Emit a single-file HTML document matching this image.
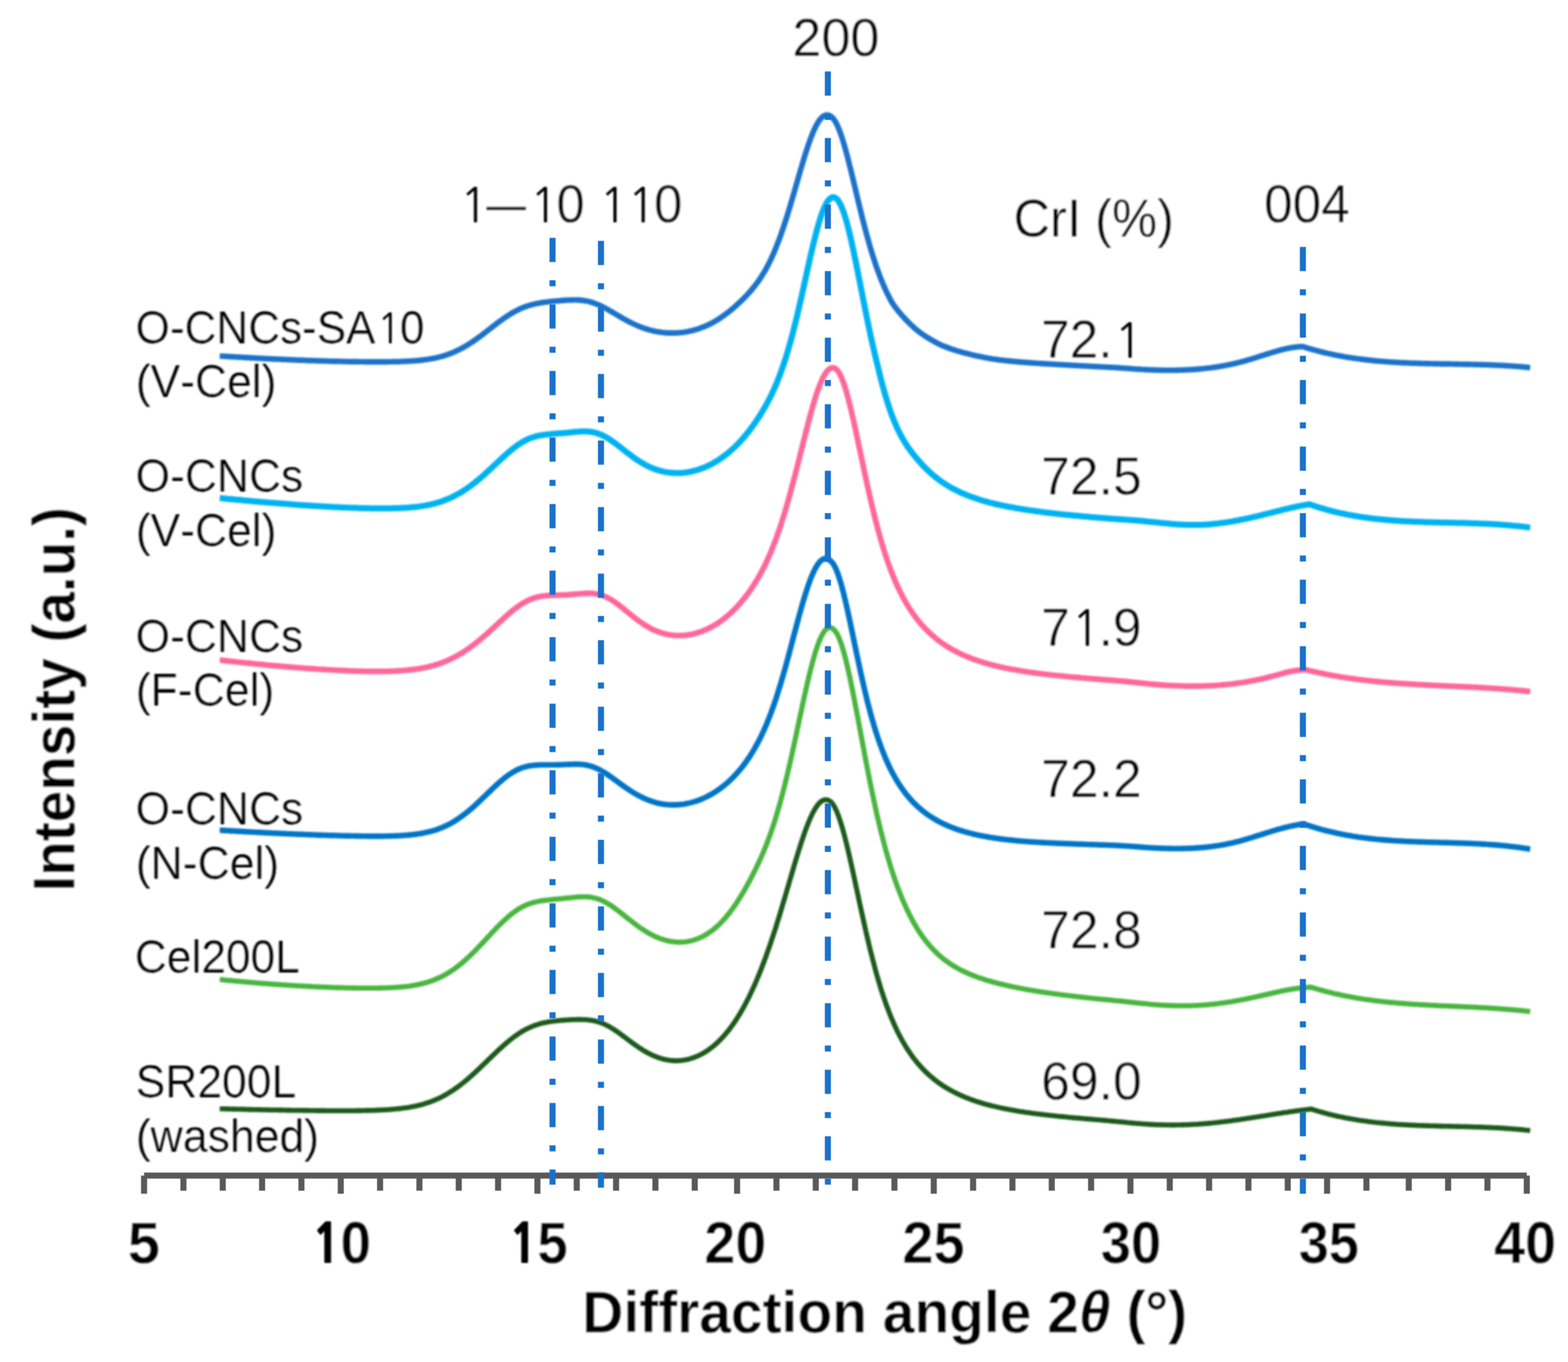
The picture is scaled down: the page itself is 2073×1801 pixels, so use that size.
<!DOCTYPE html>
<html lang="en"><head><meta charset="utf-8"><title>XRD patterns</title>
<style>
html,body{margin:0;padding:0;background:#fff;}
body{width:2073px;height:1801px;overflow:hidden;}
svg{display:block;}
text{font-family:"Liberation Sans",Arial,Helvetica,sans-serif;fill:#000;white-space:pre;font-kerning:none;}
.r{font-size:67.5px;stroke:#fff;stroke-width:0.4px;}
.l{font-size:60.0px;stroke:#fff;stroke-width:0.2px;}
.b{font-weight:bold;font-size:77.0px;stroke:#fff;stroke-width:0.4px;}
.n1{font-family:"NanumGothic","Liberation Sans",sans-serif;font-size:91.4%;stroke:none;}
.b .n1{font-weight:800;font-size:89.5%;}
</style></head><body>
<svg xmlns="http://www.w3.org/2000/svg" width="2073" height="1801" viewBox="0 0 2073 1801">
<defs><filter id="soft" x="-2%" y="-2%" width="104%" height="104%"><feGaussianBlur stdDeviation="1.0"/></filter></defs>
<rect width="2073" height="1801" fill="#fff"/>

<g filter="url(#soft)">
<text class="r" transform="translate(1047.53,74.2) scale(1.0235,1.035)">200</text>
<text class="r" transform="translate(790.22,293.6) scale(0.9964,1.035)"><tspan class="n1" dx="2.2">1</tspan><tspan class="n1">1</tspan><tspan dx="-2.2">0</tspan></text>
<text class="r" transform="translate(698.65,293.6) scale(0.9905,1.035)"><tspan class="n1" dx="2.2">1</tspan><tspan dx="-2.2">0</tspan></text>
<text class="r" transform="translate(1671.19,293.7) scale(1.0057,1.035)">004</text>
<text class="r" transform="translate(1340.03,313.4) scale(0.9917,1.035)">CrI (%)</text>
<text class="r" transform="translate(1376.58,473.4) scale(1.0061,1.035)">72.<tspan class="n1" dx="2.2">1</tspan></text>
<text class="r" transform="translate(1376.57,653.7) scale(1.0116,1.035)">72.5</text>
<text class="r" transform="translate(1376.57,853.8) scale(1.0116,1.035)">7<tspan class="n1" dx="2.2">1</tspan><tspan dx="-2.2">.9</tspan></text>
<text class="r" transform="translate(1376.57,1053.7) scale(1.0116,1.035)">72.2</text>
<text class="r" transform="translate(1376.57,1253.8) scale(1.0116,1.035)">72.8</text>
<text class="r" transform="translate(1376.57,1453.9) scale(1.0116,1.035)">69.0</text>
<text class="l" transform="translate(179.36,453.6) scale(0.9707,1.03)">O-CNCs-SA<tspan class="n1" dx="2">1</tspan><tspan dx="-2">0</tspan></text>
<text class="l" transform="translate(179.46,525.4) scale(0.9793,1.03)">(V-Cel)</text>
<text class="l" transform="translate(179.35,649.8) scale(0.9774,1.03)">O-CNCs</text>
<text class="l" transform="translate(179.46,721.7) scale(0.9793,1.03)">(V-Cel)</text>
<text class="l" transform="translate(179.35,861.7) scale(0.9774,1.03)">O-CNCs</text>
<text class="l" transform="translate(179.45,933.4) scale(0.9821,1.03)">(F-Cel)</text>
<text class="l" transform="translate(179.35,1089.9) scale(0.9774,1.03)">O-CNCs</text>
<text class="l" transform="translate(179.46,1161.7) scale(0.9812,1.03)">(N-Cel)</text>
<text class="l" transform="translate(178.37,1286.4) scale(0.9752,1.03)">Cel200L</text>
<text class="l" transform="translate(179.34,1450.6) scale(0.9791,1.03)">SR200L</text>
<text class="l" transform="translate(179.45,1522.5) scale(0.983,1.03)">(washed)</text>
<text class="b" transform="translate(168.92,1670.2) scale(0.9923,1.02)">5</text>
<text class="b" transform="translate(410.93,1670.2) scale(0.9413,1.02)"><tspan class="n1" dx="1.5">1</tspan><tspan dx="-1.5">0</tspan></text>
<text class="b" transform="translate(671.25,1670.2) scale(0.9371,1.02)"><tspan class="n1" dx="1.5">1</tspan><tspan dx="-1.5">5</tspan></text>
<text class="b" transform="translate(931.29,1670.2) scale(0.9539,1.02)">20</text>
<text class="b" transform="translate(1193.08,1670.2) scale(0.9594,1.02)">25</text>
<text class="b" transform="translate(1455.37,1670.2) scale(0.9325,1.02)">30</text>
<text class="b" transform="translate(1716.97,1670.2) scale(0.9309,1.02)">35</text>
<text class="b" transform="translate(1975.24,1670.2) scale(0.9594,1.02)">40</text>
<text class="r" transform="translate(605.8,293.6) scale(1,1.035)"><tspan class="n1" dx="2.2">1</tspan></text>
<text class="r" transform="translate(643,293.6) scale(0.775,1.035)">—</text>
<text class="b" transform="translate(769.81,1761.8) scale(0.9777,1.02)">Diffraction angle 2<tspan font-style="italic">θ</tspan> (°)</text>
<text class="b" transform="translate(98.7,1178.87) rotate(-90) scale(0.9741,1.02)">Intensity (a.u.)</text>
</g>
<g fill="#595959">
<rect x="190.5" y="1550.5" width="1828" height="8"/>
<rect x="186.5" y="1554.5" width="8.0" height="24"/>
<rect x="238.5" y="1554.5" width="8.0" height="20"/>
<rect x="290.5" y="1554.5" width="8.0" height="20"/>
<rect x="342.5" y="1554.5" width="8.0" height="20"/>
<rect x="394.5" y="1554.5" width="8.0" height="20"/>
<rect x="446.5" y="1554.5" width="8.0" height="24"/>
<rect x="498.5" y="1554.5" width="8.0" height="20"/>
<rect x="550.5" y="1554.5" width="8.0" height="20"/>
<rect x="602.5" y="1554.5" width="8.0" height="20"/>
<rect x="654.5" y="1554.5" width="8.0" height="20"/>
<rect x="706.5" y="1554.5" width="8.0" height="24"/>
<rect x="758.5" y="1554.5" width="8.0" height="20"/>
<rect x="810.5" y="1554.5" width="8.0" height="20"/>
<rect x="862.5" y="1554.5" width="8.0" height="20"/>
<rect x="914.5" y="1554.5" width="8.0" height="20"/>
<rect x="970.5" y="1554.5" width="8.0" height="24"/>
<rect x="1022.5" y="1554.5" width="8.0" height="20"/>
<rect x="1074.5" y="1554.5" width="8.0" height="20"/>
<rect x="1126.5" y="1554.5" width="8.0" height="20"/>
<rect x="1178.5" y="1554.5" width="8.0" height="20"/>
<rect x="1230.5" y="1554.5" width="8.0" height="24"/>
<rect x="1282.5" y="1554.5" width="8.0" height="20"/>
<rect x="1334.5" y="1554.5" width="8.0" height="20"/>
<rect x="1386.5" y="1554.5" width="8.0" height="20"/>
<rect x="1438.5" y="1554.5" width="8.0" height="20"/>
<rect x="1490.5" y="1554.5" width="8.0" height="24"/>
<rect x="1542.5" y="1554.5" width="8.0" height="20"/>
<rect x="1594.5" y="1554.5" width="8.0" height="20"/>
<rect x="1646.5" y="1554.5" width="8.0" height="20"/>
<rect x="1698.5" y="1554.5" width="8.0" height="20"/>
<rect x="1750.5" y="1554.5" width="8.0" height="24"/>
<rect x="1802.5" y="1554.5" width="8.0" height="20"/>
<rect x="1858.5" y="1554.5" width="8.0" height="20"/>
<rect x="1910.5" y="1554.5" width="8.0" height="20"/>
<rect x="1962.5" y="1554.5" width="8.0" height="20"/>
<rect x="2014.5" y="1554.5" width="8.0" height="24"/>
</g>
<g fill="none" stroke-linejoin="round" stroke-linecap="butt" filter="url(#soft)">
<path stroke="#1b72ca" stroke-width="7.4" d="M290.5,470.7 L292.7,470.9 L294.8,471 L297,471.1 L299.2,471.3 L301.3,471.4 L303.5,471.5 L305.7,471.7 L307.8,471.8 L310,471.9 L312.2,472.1 L314.4,472.2 L316.5,472.3 L318.7,472.4 L320.9,472.6 L323,472.7 L325.2,472.8 L327.4,472.9 L329.5,473 L331.7,473.2 L333.9,473.3 L336,473.4 L338.2,473.5 L340.4,473.6 L342.5,473.7 L344.7,473.9 L346.9,474 L349,474.1 L351.2,474.2 L353.4,474.3 L355.6,474.4 L357.7,474.5 L359.9,474.6 L362.1,474.7 L364.2,474.8 L366.4,474.9 L368.6,475 L370.7,475.1 L372.9,475.2 L375.1,475.3 L377.2,475.4 L379.4,475.5 L381.6,475.6 L383.7,475.7 L385.9,475.8 L388.1,475.9 L390.2,476 L392.4,476.1 L394.6,476.2 L396.7,476.2 L398.9,476.3 L401.1,476.4 L403.3,476.5 L405.4,476.6 L407.6,476.7 L409.8,476.7 L411.9,476.8 L414.1,476.9 L416.3,477 L418.4,477 L420.6,477.1 L422.8,477.2 L424.9,477.2 L427.1,477.3 L429.3,477.4 L431.4,477.4 L433.6,477.5 L435.8,477.6 L437.9,477.6 L440.1,477.7 L442.3,477.7 L444.5,477.8 L446.6,477.8 L448.8,477.9 L451,477.9 L453.1,478 L455.3,478 L457.5,478.1 L459.6,478.1 L461.8,478.2 L464,478.2 L466.1,478.2 L468.3,478.3 L470.5,478.3 L472.6,478.3 L474.8,478.4 L477,478.4 L479.1,478.4 L481.3,478.4 L483.5,478.5 L485.7,478.5 L487.8,478.5 L490,478.5 L492.2,478.5 L494.3,478.5 L496.5,478.5 L498.7,478.5 L500.8,478.5 L503,478.5 L505.2,478.5 L507.3,478.5 L509.5,478.5 L511.7,478.5 L513.8,478.4 L516,478.4 L518.2,478.4 L520.3,478.3 L522.5,478.3 L524.7,478.2 L526.8,478.2 L529,478.1 L531.2,478 L533.4,477.9 L535.5,477.8 L537.7,477.7 L539.9,477.6 L542,477.5 L544.2,477.4 L546.4,477.2 L548.5,477.1 L550.7,476.9 L552.9,476.7 L555,476.5 L557.2,476.2 L559.4,476 L561.5,475.7 L563.7,475.4 L565.9,475.1 L568,474.7 L570.2,474.4 L572.4,474 L574.6,473.5 L576.7,473.1 L578.9,472.6 L581.1,472 L583.2,471.5 L585.4,470.9 L587.6,470.2 L589.7,469.5 L591.9,468.8 L594.1,468 L596.2,467.2 L598.4,466.3 L600.6,465.4 L602.7,464.4 L604.9,463.4 L607.1,462.3 L609.2,461.2 L611.4,460.1 L613.6,458.8 L615.8,457.6 L617.9,456.3 L620.1,454.9 L622.3,453.5 L624.4,452.1 L626.6,450.6 L628.8,449.1 L630.9,447.6 L633.1,446 L635.3,444.4 L637.4,442.8 L639.6,441.1 L641.8,439.4 L643.9,437.8 L646.1,436.1 L648.3,434.4 L650.4,432.7 L652.6,431 L654.8,429.4 L656.9,427.7 L659.1,426.1 L661.3,424.5 L663.5,422.9 L665.6,421.3 L667.8,419.8 L670,418.4 L672.1,416.9 L674.3,415.6 L676.5,414.3 L678.6,413 L680.8,411.8 L683,410.7 L685.1,409.6 L687.3,408.5 L689.5,407.6 L691.6,406.7 L693.8,405.8 L696,405.1 L698.1,404.3 L700.3,403.7 L702.5,403.1 L704.7,402.5 L706.8,402 L709,401.5 L711.2,401.1 L713.3,400.7 L715.5,400.3 L717.7,400 L719.8,399.7 L722,399.4 L724.2,399.2 L726.3,398.9 L728.5,398.7 L730.7,398.5 L732.8,398.3 L735,398.1 L737.2,397.9 L739.3,397.7 L741.5,397.5 L743.7,397.3 L745.9,397.2 L748,397 L750.2,396.9 L752.4,396.8 L754.5,396.7 L756.7,396.7 L758.9,396.6 L761,396.6 L763.2,396.7 L765.4,396.8 L767.5,397 L769.7,397.2 L771.9,397.5 L774,397.8 L776.2,398.2 L778.4,398.7 L780.5,399.3 L782.7,399.9 L784.9,400.6 L787,401.4 L789.2,402.3 L791.4,403.2 L793.6,404.2 L795.7,405.2 L797.9,406.3 L800.1,407.4 L802.2,408.6 L804.4,409.8 L806.6,411.1 L808.7,412.3 L810.9,413.6 L813.1,414.9 L815.2,416.1 L817.4,417.4 L819.6,418.7 L821.7,420 L823.9,421.2 L826.1,422.4 L828.2,423.6 L830.4,424.7 L832.6,425.9 L834.8,427 L836.9,428 L839.1,429 L841.3,430 L843.4,430.9 L845.6,431.8 L847.8,432.7 L849.9,433.5 L852.1,434.2 L854.3,434.9 L856.4,435.6 L858.6,436.2 L860.8,436.8 L862.9,437.3 L865.1,437.8 L867.3,438.3 L869.4,438.7 L871.6,439 L873.8,439.4 L876,439.6 L878.1,439.9 L880.3,440 L882.5,440.2 L884.6,440.3 L886.8,440.3 L889,440.4 L891.1,440.3 L893.3,440.3 L895.5,440.1 L897.6,440 L899.8,439.8 L902,439.6 L904.1,439.3 L906.3,438.9 L908.5,438.6 L910.6,438.2 L912.8,437.7 L915,437.2 L917.1,436.6 L919.3,436 L921.5,435.4 L923.7,434.7 L925.8,433.9 L928,433.1 L930.2,432.3 L932.3,431.4 L934.5,430.4 L936.7,429.4 L938.8,428.4 L941,427.2 L943.2,426.1 L945.3,424.8 L947.5,423.5 L949.7,422.2 L951.8,420.8 L954,419.3 L956.2,417.8 L958.3,416.2 L960.5,414.6 L962.7,412.9 L964.9,411.2 L967,409.4 L969.2,407.6 L971.4,405.7 L973.5,403.8 L975.7,401.8 L977.9,399.8 L980,397.7 L982.2,395.6 L984.4,393.4 L986.5,391.2 L988.7,388.8 L990.9,386.5 L993,384 L995.2,381.4 L997.4,378.7 L999.5,375.9 L1001.7,373 L1003.9,369.9 L1006.1,366.7 L1008.2,363.2 L1010.4,359.6 L1012.6,355.8 L1014.7,351.8 L1016.9,347.6 L1019.1,343.1 L1021.2,338.4 L1023.4,333.5 L1025.6,328.3 L1027.7,322.8 L1029.9,317.1 L1032.1,311.2 L1034.2,305 L1036.4,298.5 L1038.6,291.9 L1040,287.4 L1040.5,285.8 L1040.7,285 L1041,284.2 L1041.5,282.6 L1042,280.9 L1042.5,279.3 L1042.9,278 L1043,277.7 L1043.5,276 L1044,274.4 L1044.5,272.7 L1045,271 L1045.1,270.7 L1045.5,269.3 L1046,267.6 L1046.5,265.9 L1047,264.2 L1047.2,263.4 L1047.5,262.5 L1048,260.8 L1048.5,259.1 L1049,257.4 L1049.4,255.9 L1049.5,255.7 L1050,253.9 L1050.5,252.2 L1051,250.5 L1051.5,248.7 L1051.6,248.4 L1052,247 L1052.5,245.2 L1053,243.5 L1053.5,241.7 L1053.8,240.9 L1054,240 L1054.5,238.3 L1055,236.5 L1055.5,234.8 L1055.9,233.3 L1056,233 L1056.5,231.3 L1057,229.6 L1057.5,227.9 L1058,226.1 L1058.1,225.8 L1058.5,224.4 L1059,222.7 L1059.5,221 L1060,219.3 L1060.3,218.4 L1060.5,217.6 L1061,215.9 L1061.5,214.3 L1062,212.6 L1062.4,211.2 L1062.5,211 L1063,209.3 L1063.5,207.7 L1064,206.1 L1064.5,204.5 L1064.6,204.2 L1065,202.9 L1065.5,201.3 L1066,199.7 L1066.5,198.2 L1066.8,197.4 L1067,196.7 L1067.5,195.2 L1068,193.7 L1068.5,192.2 L1068.9,190.9 L1069,190.7 L1069.5,189.3 L1070,187.9 L1070.5,186.4 L1071,185.1 L1071.1,184.8 L1071.5,183.7 L1072,182.4 L1072.5,181 L1073,179.8 L1073.3,179.1 L1073.5,178.5 L1074,177.2 L1074.5,176 L1075,174.8 L1075.4,173.8 L1075.5,173.7 L1076,172.5 L1076.5,171.4 L1077,170.3 L1077.5,169.2 L1077.6,169 L1078,168.2 L1078.5,167.2 L1079,166.2 L1079.5,165.3 L1079.8,164.8 L1080,164.4 L1080.5,163.5 L1081,162.6 L1081.5,161.8 L1081.9,161.1 L1082,161 L1082.5,160.2 L1083,159.5 L1083.5,158.8 L1084,158.2 L1084.1,158 L1084.5,157.5 L1085,156.9 L1085.5,156.4 L1086,155.8 L1086.3,155.6 L1086.5,155.3 L1087,154.9 L1087.5,154.5 L1088,154.1 L1088.4,153.8 L1088.5,153.7 L1089,153.4 L1089.5,153.1 L1090,152.9 L1090.5,152.6 L1090.6,152.6 L1091,152.5 L1091.5,152.3 L1092,152.2 L1092.5,152.1 L1092.8,152.1 L1093,152.1 L1093.5,152.1 L1094,152.1 L1094.5,152.2 L1095,152.3 L1095,152.3 L1095.5,152.4 L1096,152.6 L1096.5,152.8 L1097,153.1 L1097.1,153.1 L1097.5,153.3 L1098,153.7 L1098.5,154 L1099,154.4 L1099.3,154.6 L1099.5,154.8 L1100,155.2 L1100.5,155.7 L1101,156.2 L1101.5,156.7 L1101.5,156.8 L1102,157.4 L1102.5,158 L1103,158.7 L1103.5,159.4 L1103.6,159.6 L1104,160.2 L1104.5,161 L1105,161.9 L1105.5,162.8 L1105.8,163.4 L1106,163.8 L1106.5,164.8 L1107,165.9 L1107.5,166.9 L1108,168 L1108,168.1 L1108.5,169.3 L1109,170.5 L1109.5,171.7 L1110,173 L1110.1,173.4 L1110.5,174.4 L1111,175.7 L1111.5,177.2 L1112,178.6 L1112.3,179.5 L1112.5,180.1 L1113,181.6 L1113.5,183.1 L1114,184.7 L1114.5,186.2 L1114.5,186.3 L1115,188 L1115.5,189.6 L1116,191.3 L1116.5,193.1 L1116.6,193.5 L1117,194.8 L1117.5,196.6 L1118,198.4 L1118.5,200.2 L1118.8,201.4 L1119,202.1 L1119.5,204 L1120,205.8 L1120.5,207.8 L1121,209.6 L1121,209.7 L1121.5,211.6 L1122,213.6 L1122.5,215.6 L1123,217.6 L1123.1,218.1 L1123.5,219.6 L1124,221.6 L1124.5,223.6 L1125,225.7 L1125.3,226.9 L1125.5,227.7 L1126,229.8 L1126.5,231.8 L1127,233.9 L1127.5,235.9 L1127.5,236 L1128,238.1 L1128.5,240.2 L1129,242.3 L1129.5,244.4 L1129.6,245 L1130,246.5 L1130.5,248.6 L1131,250.7 L1131.5,252.8 L1131.8,254.1 L1132,254.9 L1132.5,257 L1133,259.1 L1133.5,261.2 L1134,263.2 L1134,263.2 L1134.5,265.3 L1135,267.4 L1135.5,269.5 L1136,271.6 L1136.2,272.2 L1136.5,273.6 L1137,275.7 L1137.5,277.7 L1138,279.8 L1138.3,281 L1138.5,281.8 L1139,283.8 L1139.5,285.8 L1140,287.8 L1140.5,289.8 L1140.5,289.8 L1141,291.8 L1141.5,293.7 L1142,295.7 L1142.5,297.6 L1142.7,298.2 L1143,299.6 L1143.5,301.5 L1144,303.4 L1144.5,305.3 L1144.8,306.5 L1145,307.2 L1145.5,309 L1146,310.9 L1146.5,312.7 L1147,314.5 L1147,314.5 L1147.5,316.3 L1148,318.1 L1148.5,319.9 L1149,321.7 L1149.2,322.2 L1149.5,323.4 L1150,325.2 L1151.3,329.7 L1153.5,336.8 L1155.7,343.7 L1157.8,350.2 L1160,356.4 L1162.2,362.4 L1164.3,368 L1166.5,373.4 L1168.7,378.5 L1170.8,383.4 L1173,388 L1175.2,392.3 L1177.3,396.4 L1179.5,400.4 L1181.7,403.6 L1183.9,406.6 L1186,409.4 L1188.2,412.1 L1190.4,414.7 L1192.5,417.2 L1194.7,419.5 L1196.9,421.9 L1199,424.1 L1201.2,426.4 L1203.4,428.5 L1205.5,430.6 L1207.7,432.6 L1209.9,434.5 L1212,436.4 L1214.2,438.1 L1216.4,439.7 L1218.5,441.3 L1220.7,442.8 L1222.9,444.2 L1225.1,445.7 L1227.2,447 L1229.4,448.3 L1231.6,449.6 L1233.7,450.8 L1235.9,452 L1238.1,453.2 L1240.2,454.3 L1242.4,455.3 L1244.6,456.3 L1246.7,457.3 L1248.9,458.2 L1251.1,459 L1253.2,459.9 L1255.4,460.6 L1257.6,461.4 L1259.7,462.1 L1261.9,462.9 L1264.1,463.5 L1266.3,464.2 L1268.4,464.8 L1270.6,465.4 L1272.8,466 L1274.9,466.6 L1277.1,467.2 L1279.3,467.7 L1281.4,468.2 L1283.6,468.8 L1285.8,469.3 L1287.9,469.8 L1290.1,470.3 L1292.3,470.8 L1294.4,471.2 L1296.6,471.7 L1298.8,472.1 L1300.9,472.6 L1303.1,473 L1305.3,473.4 L1307.4,473.8 L1309.6,474.2 L1311.8,474.6 L1314,474.9 L1316.1,475.2 L1318.3,475.5 L1320.5,475.8 L1322.6,476.1 L1324.8,476.3 L1327,476.6 L1329.1,476.8 L1331.3,477.1 L1333.5,477.3 L1335.6,477.5 L1337.8,477.7 L1340,477.9 L1342.1,478.1 L1344.3,478.3 L1346.5,478.5 L1348.6,478.7 L1350.8,478.9 L1353,479 L1355.2,479.2 L1357.3,479.4 L1359.5,479.5 L1361.7,479.7 L1363.8,479.8 L1366,480 L1368.2,480.1 L1370.3,480.3 L1372.5,480.4 L1374.7,480.6 L1376.8,480.7 L1379,480.8 L1381.2,481 L1383.3,481.1 L1385.5,481.2 L1387.7,481.4 L1389.8,481.5 L1392,481.6 L1394.2,481.7 L1396.4,481.9 L1398.5,482 L1400.7,482.1 L1402.9,482.2 L1405,482.4 L1407.2,482.5 L1409.4,482.6 L1411.5,482.7 L1413.7,482.8 L1415.9,483 L1418,483.1 L1420.2,483.2 L1422.4,483.3 L1424.5,483.4 L1426.7,483.6 L1428.9,483.7 L1431,483.8 L1433.2,483.9 L1435.4,484 L1437.5,484.1 L1439.7,484.2 L1441.9,484.4 L1444.1,484.5 L1446.2,484.6 L1448.4,484.7 L1450.6,484.8 L1452.7,484.9 L1454.9,485 L1457.1,485.1 L1459.2,485.3 L1461.4,485.4 L1463.6,485.5 L1465.7,485.6 L1467.9,485.7 L1470.1,485.8 L1472.2,485.9 L1474.4,486.1 L1476.6,486.2 L1478.7,486.3 L1480.9,486.5 L1483.1,486.6 L1485.3,486.8 L1487.4,486.9 L1489.6,487.1 L1491.8,487.2 L1493.9,487.4 L1496.1,487.6 L1498.3,487.8 L1500.4,487.9 L1502.6,488.1 L1504.8,488.2 L1506.9,488.3 L1509.1,488.4 L1511.3,488.6 L1513.4,488.7 L1515.6,488.8 L1517.8,488.9 L1519.9,489 L1522.1,489.1 L1524.3,489.2 L1526.5,489.3 L1528.6,489.4 L1530.8,489.4 L1533,489.5 L1535.1,489.5 L1537.3,489.6 L1539.5,489.6 L1541.6,489.6 L1543.8,489.6 L1546,489.6 L1548.1,489.6 L1550.3,489.6 L1552.5,489.6 L1554.6,489.5 L1556.8,489.5 L1559,489.4 L1561.1,489.4 L1563.3,489.3 L1565.5,489.2 L1567.6,489.1 L1569.8,489 L1572,488.9 L1574.2,488.8 L1576.3,488.7 L1578.5,488.5 L1580.7,488.4 L1582.8,488.2 L1585,488 L1587.2,487.8 L1589.3,487.6 L1591.5,487.4 L1593.7,487.1 L1595.8,486.9 L1598,486.6 L1600.2,486.4 L1602.3,486.1 L1604.5,485.8 L1606.7,485.5 L1608.8,485.1 L1611,484.8 L1613.2,484.4 L1615.4,484.1 L1617.5,483.7 L1619.7,483.3 L1621.9,482.9 L1624,482.4 L1626.2,482 L1628.4,481.5 L1630.5,481.1 L1632.7,480.6 L1634.9,480.1 L1637,479.5 L1639.2,479 L1641.4,478.4 L1643.5,477.8 L1645.7,477.3 L1647.9,476.6 L1650,476 L1652.2,475.4 L1654.4,474.7 L1656.6,474.1 L1658.7,473.4 L1660.9,472.7 L1663.1,472 L1665.2,471.3 L1667.4,470.6 L1669.6,470 L1671.7,469.3 L1673.9,468.6 L1676.1,467.9 L1678.2,467.2 L1680.4,466.5 L1682.6,465.9 L1684.7,465.2 L1686.9,464.6 L1689.1,464 L1691.2,463.4 L1692.4,463.1 L1693.4,462.8 L1693.4,462.8 L1694.4,462.5 L1695.4,462.3 L1695.6,462.2 L1696.4,462 L1697.4,461.8 L1697.7,461.7 L1698.4,461.6 L1699.4,461.3 L1699.9,461.2 L1700.4,461.1 L1701.4,460.9 L1702.1,460.8 L1702.4,460.7 L1703.4,460.5 L1704.3,460.3 L1704.4,460.3 L1705.4,460.1 L1706.4,459.9 L1706.4,459.9 L1707.4,459.8 L1708.4,459.6 L1708.6,459.6 L1709.4,459.4 L1710.4,459.3 L1710.8,459.2 L1711.4,459.2 L1712.4,459 L1712.9,459 L1713.4,458.9 L1714.4,458.8 L1715.1,458.7 L1715.4,458.7 L1716.4,458.6 L1717.3,458.5 L1717.4,458.5 L1718.4,458.5 L1719.4,458.4 L1719.4,458.4 L1720.4,458.4 L1721.4,458.3 L1721.6,458.3 L1722.4,458.3 L1723.4,458.6 L1723.8,458.7 L1724.4,458.9 L1725.4,459.3 L1725.9,459.4 L1726.4,459.6 L1727.4,459.9 L1728.1,460.1 L1728.4,460.2 L1729.4,460.5 L1730.3,460.7 L1730.4,460.8 L1731.4,461.1 L1732.4,461.4 L1732.4,461.4 L1733.4,461.6 L1734.4,461.9 L1734.6,462 L1735.4,462.2 L1736.4,462.5 L1736.8,462.6 L1737.4,462.8 L1738.4,463 L1738.9,463.2 L1739.4,463.3 L1740.4,463.6 L1741.1,463.8 L1741.4,463.8 L1742.4,464.1 L1743.3,464.3 L1743.4,464.4 L1744.4,464.6 L1745.4,464.9 L1745.5,464.9 L1746.4,465.1 L1747.4,465.4 L1747.6,465.4 L1748.4,465.6 L1749.4,465.9 L1749.8,466 L1750.4,466.1 L1751.4,466.4 L1752,466.5 L1752.4,466.6 L1754.1,467 L1756.3,467.5 L1758.5,468 L1760.6,468.4 L1762.8,468.9 L1765,469.3 L1767.1,469.8 L1769.3,470.2 L1771.5,470.6 L1773.6,471 L1775.8,471.4 L1778,471.8 L1780.1,472.1 L1782.3,472.5 L1784.5,472.8 L1786.7,473.2 L1788.8,473.5 L1791,473.8 L1793.2,474.1 L1795.3,474.4 L1797.5,474.7 L1799.7,475 L1801.8,475.3 L1804,475.5 L1806.2,475.8 L1808.3,476 L1810.5,476.3 L1812.7,476.5 L1814.8,476.7 L1817,477 L1819.2,477.2 L1821.3,477.4 L1823.5,477.6 L1825.7,477.7 L1827.8,477.9 L1830,478.1 L1832.2,478.3 L1834.4,478.4 L1836.5,478.6 L1838.7,478.7 L1840.9,478.9 L1843,479 L1845.2,479.1 L1847.4,479.3 L1849.5,479.4 L1851.7,479.5 L1853.9,479.6 L1856,479.7 L1858.2,479.8 L1860.4,479.9 L1862.5,480 L1864.7,480.1 L1866.9,480.2 L1869,480.2 L1871.2,480.3 L1873.4,480.4 L1875.6,480.5 L1877.7,480.5 L1879.9,480.6 L1882.1,480.6 L1884.2,480.7 L1886.4,480.8 L1888.6,480.8 L1890.7,480.9 L1892.9,480.9 L1895.1,481 L1897.2,481 L1899.4,481 L1901.6,481.1 L1903.7,481.1 L1905.9,481.2 L1908.1,481.2 L1910.2,481.2 L1912.4,481.3 L1914.6,481.3 L1916.8,481.3 L1918.9,481.4 L1921.1,481.4 L1923.3,481.5 L1925.4,481.5 L1927.6,481.5 L1929.8,481.6 L1931.9,481.6 L1934.1,481.6 L1936.3,481.7 L1938.4,481.7 L1940.6,481.8 L1942.8,481.8 L1944.9,481.9 L1947.1,481.9 L1949.3,482 L1951.4,482 L1953.6,482.1 L1955.8,482.1 L1957.9,482.2 L1960.1,482.3 L1962.3,482.3 L1964.5,482.4 L1966.6,482.5 L1968.8,482.5 L1971,482.6 L1973.1,482.7 L1975.3,482.8 L1977.5,482.9 L1979.6,483 L1981.8,483.1 L1984,483.2 L1986.1,483.3 L1988.3,483.4 L1990.5,483.5 L1992.6,483.7 L1994.8,483.8 L1997,483.9 L1999.1,484.1 L2001.3,484.2 L2003.5,484.4 L2005.7,484.6 L2007.8,484.7 L2010,484.9 L2012.2,485.1 L2014.3,485.3 L2016.5,485.5 L2018.7,485.7 L2020.8,485.9 L2023,486.1"/>
<path stroke="#00b2f2" stroke-width="8.0" d="M290.5,658.6 L292.7,658.8 L294.8,659.1 L297,659.3 L299.2,659.5 L301.3,659.7 L303.5,659.9 L305.7,660.1 L307.8,660.3 L310,660.5 L312.2,660.7 L314.4,660.9 L316.5,661.1 L318.7,661.3 L320.9,661.5 L323,661.7 L325.2,661.9 L327.4,662.1 L329.5,662.3 L331.7,662.5 L333.9,662.7 L336,662.9 L338.2,663.1 L340.4,663.3 L342.5,663.5 L344.7,663.7 L346.9,663.8 L349,664 L351.2,664.2 L353.4,664.4 L355.6,664.6 L357.7,664.8 L359.9,664.9 L362.1,665.1 L364.2,665.3 L366.4,665.5 L368.6,665.6 L370.7,665.8 L372.9,666 L375.1,666.1 L377.2,666.3 L379.4,666.5 L381.6,666.6 L383.7,666.8 L385.9,666.9 L388.1,667.1 L390.2,667.3 L392.4,667.4 L394.6,667.6 L396.7,667.7 L398.9,667.9 L401.1,668 L403.3,668.2 L405.4,668.3 L407.6,668.5 L409.8,668.6 L411.9,668.7 L414.1,668.9 L416.3,669 L418.4,669.1 L420.6,669.3 L422.8,669.4 L424.9,669.5 L427.1,669.6 L429.3,669.8 L431.4,669.9 L433.6,670 L435.8,670.1 L437.9,670.2 L440.1,670.4 L442.3,670.5 L444.5,670.6 L446.6,670.7 L448.8,670.8 L451,670.9 L453.1,671 L455.3,671.1 L457.5,671.2 L459.6,671.2 L461.8,671.3 L464,671.4 L466.1,671.5 L468.3,671.6 L470.5,671.6 L472.6,671.7 L474.8,671.8 L477,671.9 L479.1,671.9 L481.3,672 L483.5,672 L485.7,672.1 L487.8,672.1 L490,672.2 L492.2,672.2 L494.3,672.2 L496.5,672.2 L498.7,672.3 L500.8,672.3 L503,672.3 L505.2,672.3 L507.3,672.3 L509.5,672.3 L511.7,672.3 L513.8,672.2 L516,672.2 L518.2,672.2 L520.3,672.1 L522.5,672.1 L524.7,672 L526.8,671.9 L529,671.8 L531.2,671.7 L533.4,671.6 L535.5,671.5 L537.7,671.4 L539.9,671.2 L542,671 L544.2,670.8 L546.4,670.6 L548.5,670.4 L550.7,670.2 L552.9,669.9 L555,669.6 L557.2,669.3 L559.4,668.9 L561.5,668.6 L563.7,668.2 L565.9,667.8 L568,667.3 L570.2,666.8 L572.4,666.3 L574.6,665.8 L576.7,665.2 L578.9,664.5 L581.1,663.9 L583.2,663.2 L585.4,662.4 L587.6,661.6 L589.7,660.8 L591.9,659.9 L594.1,659 L596.2,658 L598.4,657 L600.6,655.9 L602.7,654.8 L604.9,653.6 L607.1,652.4 L609.2,651.1 L611.4,649.8 L613.6,648.4 L615.8,647 L617.9,645.5 L620.1,644 L622.3,642.4 L624.4,640.8 L626.6,639.1 L628.8,637.4 L630.9,635.6 L633.1,633.8 L635.3,632 L637.4,630.1 L639.6,628.2 L641.8,626.2 L643.9,624.3 L646.1,622.3 L648.3,620.3 L650.4,618.2 L652.6,616.2 L654.8,614.1 L656.9,612.1 L659.1,610.1 L661.3,608 L663.5,606 L665.6,604 L667.8,602.1 L670,600.1 L672.1,598.2 L674.3,596.4 L676.5,594.6 L678.6,592.9 L680.8,591.2 L683,589.6 L685.1,588.1 L687.3,586.6 L689.5,585.3 L691.6,584 L693.8,582.8 L696,581.7 L698.1,580.7 L700.3,579.8 L702.5,578.9 L704.7,578.2 L706.8,577.5 L709,576.9 L711.2,576.4 L713.3,575.9 L715.5,575.5 L717.7,575.2 L719.8,574.9 L722,574.6 L724.2,574.4 L726.3,574.2 L728.5,574 L730.7,573.8 L732.8,573.6 L735,573.5 L737.2,573.3 L739.3,573.1 L741.5,573 L743.7,572.8 L745.9,572.6 L748,572.4 L750.2,572.2 L752.4,572 L754.5,571.7 L756.7,571.5 L758.9,571.3 L761,571.1 L763.2,570.9 L765.4,570.8 L767.5,570.6 L769.7,570.5 L771.9,570.5 L774,570.5 L776.2,570.6 L778.4,570.7 L780.5,571 L782.7,571.3 L784.9,571.7 L787,572.2 L789.2,572.9 L791.4,573.6 L793.6,574.4 L795.7,575.3 L797.9,576.4 L800.1,577.5 L802.2,578.7 L804.4,580 L806.6,581.4 L808.7,582.9 L810.9,584.4 L813.1,586 L815.2,587.6 L817.4,589.3 L819.6,591 L821.7,592.7 L823.9,594.4 L826.1,596.1 L828.2,597.8 L830.4,599.5 L832.6,601.1 L834.8,602.7 L836.9,604.3 L839.1,605.9 L841.3,607.4 L843.4,608.8 L845.6,610.2 L847.8,611.5 L849.9,612.8 L852.1,614 L854.3,615.2 L856.4,616.3 L858.6,617.3 L860.8,618.3 L862.9,619.2 L865.1,620.1 L867.3,620.9 L869.4,621.6 L871.6,622.2 L873.8,622.8 L876,623.4 L878.1,623.8 L880.3,624.3 L882.5,624.6 L884.6,624.9 L886.8,625.1 L889,625.3 L891.1,625.5 L893.3,625.5 L895.5,625.5 L897.6,625.5 L899.8,625.4 L902,625.3 L904.1,625.1 L906.3,624.8 L908.5,624.5 L910.6,624.1 L912.8,623.7 L915,623.3 L917.1,622.7 L919.3,622.2 L921.5,621.5 L923.7,620.9 L925.8,620.1 L928,619.3 L930.2,618.5 L932.3,617.6 L934.5,616.7 L936.7,615.6 L938.8,614.6 L941,613.5 L943.2,612.3 L945.3,611 L947.5,609.7 L949.7,608.4 L951.8,606.9 L954,605.4 L956.2,603.9 L958.3,602.3 L960.5,600.6 L962.7,598.8 L964.9,597 L967,595.1 L969.2,593.1 L971.4,591.1 L973.5,589 L975.7,586.8 L977.9,584.5 L980,582.1 L982.2,579.7 L984.4,577.2 L986.5,574.6 L988.7,571.9 L990.9,569.1 L993,566.2 L995.2,563.3 L997.4,560.2 L999.5,557.1 L1001.7,553.9 L1003.9,550.5 L1006.1,547.1 L1008.2,543.5 L1010.4,539.8 L1012.6,536 L1014.7,532 L1016.9,527.9 L1019.1,523.6 L1021.2,519.1 L1023.4,514.4 L1025.6,509.4 L1027.7,504.2 L1029.9,498.7 L1032.1,493 L1034.2,486.9 L1036.4,480.6 L1038.6,473.9 L1040,469.3 L1040.5,467.7 L1040.7,466.8 L1041,466 L1041.5,464.3 L1042,462.6 L1042.5,460.9 L1042.9,459.5 L1043,459.2 L1043.5,457.4 L1044,455.7 L1044.5,453.9 L1045,452.1 L1045.1,451.8 L1045.5,450.2 L1046,448.4 L1046.5,446.5 L1047,444.7 L1047.2,443.7 L1047.5,442.8 L1048,440.9 L1048.5,438.9 L1049,437 L1049.4,435.3 L1049.5,435 L1050,433 L1050.5,431.1 L1051,429 L1051.5,427 L1051.6,426.7 L1052,425 L1052.5,422.9 L1053,420.9 L1053.5,418.8 L1053.8,417.7 L1054,416.7 L1054.5,414.6 L1055,412.4 L1055.5,410.3 L1055.9,408.5 L1056,408.2 L1056.5,406 L1057,403.8 L1057.5,401.6 L1058,399.4 L1058.1,399 L1058.5,397.2 L1059,395 L1059.5,392.8 L1060,390.6 L1060.3,389.4 L1060.5,388.4 L1061,386.1 L1061.5,383.9 L1062,381.6 L1062.4,379.7 L1062.5,379.4 L1063,377.1 L1063.5,374.8 L1064,372.6 L1064.5,370.3 L1064.6,369.9 L1065,368.1 L1065.5,365.8 L1066,363.5 L1066.5,361.3 L1066.8,360.1 L1067,359 L1067.5,356.7 L1068,354.5 L1068.5,352.2 L1068.9,350.3 L1069,350 L1069.5,347.8 L1070,345.5 L1070.5,343.3 L1071,341.1 L1071.1,340.7 L1071.5,338.9 L1072,336.7 L1072.5,334.6 L1073,332.4 L1073.3,331.2 L1073.5,330.3 L1074,328.1 L1074.5,326 L1075,323.9 L1075.4,322.1 L1075.5,321.9 L1076,319.8 L1076.5,317.8 L1077,315.7 L1077.5,313.8 L1077.6,313.3 L1078,311.8 L1078.5,309.8 L1079,307.9 L1079.5,306 L1079.8,305 L1080,304.2 L1080.5,302.3 L1081,300.5 L1081.5,298.7 L1081.9,297.2 L1082,297 L1082.5,295.3 L1083,293.6 L1083.5,291.9 L1084,290.3 L1084.1,290 L1084.5,288.7 L1085,287.2 L1085.5,285.7 L1086,284.2 L1086.3,283.4 L1086.5,282.8 L1087,281.4 L1087.5,280 L1088,278.7 L1088.4,277.6 L1088.5,277.5 L1089,276.2 L1089.5,275.1 L1090,273.9 L1090.5,272.8 L1090.6,272.6 L1091,271.8 L1091.5,270.8 L1092,269.8 L1092.5,268.9 L1092.8,268.4 L1093,268 L1093.5,267.2 L1094,266.4 L1094.5,265.7 L1095,265.1 L1095,265 L1095.5,264.4 L1096,263.8 L1096.5,263.3 L1097,262.8 L1097.1,262.7 L1097.5,262.4 L1098,262 L1098.5,261.7 L1099,261.4 L1099.3,261.3 L1099.5,261.2 L1100,261 L1100.5,260.9 L1101,260.8 L1101.5,260.8 L1101.5,260.8 L1102,260.8 L1102.5,260.9 L1103,261 L1103.5,261.2 L1103.6,261.3 L1104,261.4 L1104.5,261.7 L1105,262.1 L1105.5,262.4 L1105.8,262.7 L1106,262.9 L1106.5,263.3 L1107,263.9 L1107.5,264.4 L1108,265 L1108,265.1 L1108.5,265.8 L1109,266.5 L1109.5,267.3 L1110,268.1 L1110.1,268.4 L1110.5,269 L1111,270 L1111.5,271 L1112,272.1 L1112.3,272.8 L1112.5,273.2 L1113,274.4 L1113.5,275.6 L1114,276.9 L1114.5,278.2 L1114.5,278.3 L1115,279.6 L1115.5,281.1 L1116,282.6 L1116.5,284.1 L1116.6,284.5 L1117,285.7 L1117.5,287.3 L1118,289 L1118.5,290.7 L1118.8,291.7 L1119,292.4 L1119.5,294.2 L1120,296 L1120.5,297.9 L1121,299.7 L1121,299.8 L1121.5,301.8 L1122,303.8 L1122.5,305.8 L1123,307.8 L1123.1,308.4 L1123.5,309.9 L1124,312 L1124.5,314.2 L1125,316.4 L1125.3,317.7 L1125.5,318.6 L1126,320.8 L1126.5,323.1 L1127,325.3 L1127.5,327.5 L1127.5,327.6 L1128,330 L1128.5,332.3 L1129,334.7 L1129.5,337.1 L1129.6,337.8 L1130,339.5 L1130.5,341.9 L1131,344.3 L1131.5,346.8 L1131.8,348.3 L1132,349.3 L1132.5,351.7 L1133,354.2 L1133.5,356.7 L1134,359.2 L1134,359.2 L1134.5,361.8 L1135,364.3 L1135.5,366.8 L1136,369.4 L1136.2,370.1 L1136.5,371.9 L1137,374.4 L1137.5,377 L1138,379.5 L1138.3,381.1 L1138.5,382.1 L1139,384.6 L1139.5,387.2 L1140,389.7 L1140.5,392.2 L1140.5,392.2 L1141,394.8 L1141.5,397.3 L1142,399.8 L1142.5,402.3 L1142.7,403.1 L1143,404.9 L1143.5,407.4 L1144,409.9 L1144.5,412.3 L1144.8,414 L1145,414.8 L1145.5,417.3 L1146,419.7 L1146.5,422.2 L1147,424.6 L1147,424.6 L1147.5,427 L1148,429.4 L1148.5,431.8 L1149,434.2 L1149.2,435 L1149.5,436.6 L1150,438.9 L1151.3,445.1 L1153.5,454.9 L1155.7,464.4 L1157.8,473.5 L1160,482.3 L1162.2,491.5 L1164.3,500.2 L1166.5,508.5 L1168.7,516.4 L1170.8,523.9 L1173,531 L1175.2,537.8 L1177.3,544.1 L1179.5,550 L1181.7,555.6 L1183.9,560.8 L1186,565.7 L1188.2,570.3 L1190.4,574.6 L1192.5,578.6 L1194.7,582.3 L1196.9,585.9 L1199,589.2 L1201.2,592.4 L1203.4,595.4 L1205.5,598.3 L1207.7,601 L1209.9,603.7 L1212,606.3 L1214.2,608.9 L1216.4,611.3 L1218.5,613.7 L1220.7,616.1 L1222.9,618.3 L1225.1,620.4 L1227.2,622.5 L1229.4,624.5 L1231.6,626.5 L1233.7,628.3 L1235.9,630.1 L1238.1,631.9 L1240.2,633.6 L1242.4,635.2 L1244.6,636.7 L1246.7,638.2 L1248.9,639.7 L1251.1,641 L1253.2,642.4 L1255.4,643.7 L1257.6,644.9 L1259.7,646.1 L1261.9,647.2 L1264.1,648.3 L1266.3,649.4 L1268.4,650.5 L1270.6,651.5 L1272.8,652.4 L1274.9,653.3 L1277.1,654.2 L1279.3,655.1 L1281.4,656 L1283.6,656.8 L1285.8,657.6 L1287.9,658.3 L1290.1,659.1 L1292.3,659.8 L1294.4,660.5 L1296.6,661.2 L1298.8,661.9 L1300.9,662.5 L1303.1,663.1 L1305.3,663.7 L1307.4,664.3 L1309.6,664.9 L1311.8,665.4 L1314,666 L1316.1,666.5 L1318.3,667 L1320.5,667.5 L1322.6,667.9 L1324.8,668.4 L1327,668.9 L1329.1,669.3 L1331.3,669.7 L1333.5,670.1 L1335.6,670.5 L1337.8,670.9 L1340,671.3 L1342.1,671.7 L1344.3,672.1 L1346.5,672.4 L1348.6,672.8 L1350.8,673.1 L1353,673.5 L1355.2,673.8 L1357.3,674.1 L1359.5,674.5 L1361.7,674.8 L1363.8,675.1 L1366,675.4 L1368.2,675.7 L1370.3,676 L1372.5,676.3 L1374.7,676.6 L1376.8,676.9 L1379,677.2 L1381.2,677.5 L1383.3,677.7 L1385.5,678 L1387.7,678.3 L1389.8,678.5 L1392,678.8 L1394.2,679 L1396.4,679.3 L1398.5,679.5 L1400.7,679.8 L1402.9,680 L1405,680.2 L1407.2,680.4 L1409.4,680.7 L1411.5,680.9 L1413.7,681.1 L1415.9,681.3 L1418,681.5 L1420.2,681.7 L1422.4,681.9 L1424.5,682.1 L1426.7,682.3 L1428.9,682.5 L1431,682.7 L1433.2,682.9 L1435.4,683.1 L1437.5,683.3 L1439.7,683.5 L1441.9,683.7 L1444.1,683.9 L1446.2,684.1 L1448.4,684.2 L1450.6,684.4 L1452.7,684.6 L1454.9,684.8 L1457.1,685 L1459.2,685.1 L1461.4,685.3 L1463.6,685.5 L1465.7,685.6 L1467.9,685.8 L1470.1,685.9 L1472.2,686.1 L1474.4,686.2 L1476.6,686.4 L1478.7,686.5 L1480.9,686.7 L1483.1,686.8 L1485.3,687 L1487.4,687.1 L1489.6,687.3 L1491.8,687.4 L1493.9,687.6 L1496.1,687.7 L1498.3,687.9 L1500.4,688.1 L1502.6,688.2 L1504.8,688.4 L1506.9,688.6 L1509.1,688.8 L1511.3,689 L1513.4,689.2 L1515.6,689.4 L1517.8,689.7 L1519.9,689.9 L1522.1,690.1 L1524.3,690.3 L1526.5,690.6 L1528.6,690.8 L1530.8,691 L1533,691.3 L1535.1,691.5 L1537.3,691.7 L1539.5,691.9 L1541.6,692.1 L1543.8,692.3 L1546,692.5 L1548.1,692.7 L1550.3,692.9 L1552.5,693.1 L1554.6,693.2 L1556.8,693.4 L1559,693.5 L1561.1,693.7 L1563.3,693.8 L1565.5,693.8 L1567.6,693.9 L1569.8,694 L1572,694 L1574.2,694 L1576.3,694.1 L1578.5,694.1 L1580.7,694.1 L1582.8,694 L1585,694 L1587.2,693.9 L1589.3,693.9 L1591.5,693.8 L1593.7,693.7 L1595.8,693.5 L1598,693.4 L1600.2,693.2 L1602.3,693 L1604.5,692.8 L1606.7,692.6 L1608.8,692.4 L1611,692.1 L1613.2,691.8 L1615.4,691.6 L1617.5,691.3 L1619.7,690.9 L1621.9,690.6 L1624,690.3 L1626.2,689.9 L1628.4,689.6 L1630.5,689.2 L1632.7,688.8 L1634.9,688.4 L1637,688 L1639.2,687.5 L1641.4,687.1 L1643.5,686.7 L1645.7,686.2 L1647.9,685.8 L1650,685.3 L1652.2,684.8 L1654.4,684.3 L1656.6,683.8 L1658.7,683.3 L1660.9,682.8 L1663.1,682.3 L1665.2,681.8 L1667.4,681.3 L1669.6,680.7 L1671.7,680.2 L1673.9,679.7 L1676.1,679.1 L1678.2,678.6 L1680.4,678.1 L1682.6,677.5 L1684.7,677 L1686.9,676.4 L1689.1,675.9 L1691.2,675.3 L1693.4,674.8 L1695.6,674.2 L1697.7,673.7 L1699.9,673.2 L1701.2,672.9 L1702.1,672.7 L1702.2,672.6 L1703.2,672.4 L1704.2,672.2 L1704.3,672.1 L1705.2,671.9 L1706.2,671.7 L1706.4,671.6 L1707.2,671.5 L1708.2,671.2 L1708.6,671.1 L1709.2,671 L1710.2,670.8 L1710.8,670.7 L1711.2,670.6 L1712.2,670.3 L1712.9,670.2 L1713.2,670.1 L1714.2,669.9 L1715.1,669.7 L1715.2,669.7 L1716.2,669.5 L1717.2,669.3 L1717.3,669.3 L1718.2,669.1 L1719.2,668.9 L1719.4,668.8 L1720.2,668.7 L1721.2,668.5 L1721.6,668.4 L1722.2,668.3 L1723.2,668.1 L1723.8,668 L1724.2,667.9 L1725.2,667.8 L1725.9,667.6 L1726.2,667.6 L1727.2,667.4 L1728.1,667.3 L1728.2,667.3 L1729.2,667.1 L1730.2,666.9 L1730.3,666.9 L1731.2,666.8 L1732.2,667.2 L1732.4,667.2 L1733.2,667.5 L1734.2,667.9 L1734.6,668 L1735.2,668.2 L1736.2,668.5 L1736.8,668.7 L1737.2,668.9 L1738.2,669.2 L1738.9,669.4 L1739.2,669.5 L1740.2,669.8 L1741.1,670.1 L1741.2,670.2 L1742.2,670.5 L1743.2,670.8 L1743.3,670.8 L1744.2,671.1 L1745.2,671.4 L1745.5,671.5 L1746.2,671.7 L1747.2,672 L1747.6,672.1 L1748.2,672.3 L1749.2,672.6 L1749.8,672.8 L1750.2,672.9 L1751.2,673.2 L1752,673.4 L1752.2,673.4 L1753.2,673.7 L1754.1,674 L1754.2,674 L1755.2,674.3 L1756.2,674.6 L1756.3,674.6 L1757.2,674.8 L1758.2,675.1 L1758.5,675.2 L1759.2,675.3 L1760.2,675.6 L1760.6,675.7 L1761.2,675.9 L1762.8,676.3 L1765,676.8 L1767.1,677.3 L1769.3,677.8 L1771.5,678.3 L1773.6,678.8 L1775.8,679.2 L1778,679.7 L1780.1,680.1 L1782.3,680.6 L1784.5,681 L1786.7,681.4 L1788.8,681.8 L1791,682.2 L1793.2,682.5 L1795.3,682.9 L1797.5,683.2 L1799.7,683.6 L1801.8,683.9 L1804,684.2 L1806.2,684.5 L1808.3,684.8 L1810.5,685.1 L1812.7,685.4 L1814.8,685.6 L1817,685.9 L1819.2,686.1 L1821.3,686.4 L1823.5,686.6 L1825.7,686.8 L1827.8,687 L1830,687.2 L1832.2,687.4 L1834.4,687.6 L1836.5,687.8 L1838.7,688 L1840.9,688.2 L1843,688.3 L1845.2,688.5 L1847.4,688.6 L1849.5,688.8 L1851.7,688.9 L1853.9,689 L1856,689.2 L1858.2,689.3 L1860.4,689.4 L1862.5,689.5 L1864.7,689.6 L1866.9,689.7 L1869,689.8 L1871.2,689.9 L1873.4,690 L1875.6,690.1 L1877.7,690.1 L1879.9,690.2 L1882.1,690.3 L1884.2,690.4 L1886.4,690.4 L1888.6,690.5 L1890.7,690.5 L1892.9,690.6 L1895.1,690.7 L1897.2,690.7 L1899.4,690.8 L1901.6,690.8 L1903.7,690.9 L1905.9,690.9 L1908.1,691 L1910.2,691 L1912.4,691.1 L1914.6,691.1 L1916.8,691.2 L1918.9,691.2 L1921.1,691.3 L1923.3,691.3 L1925.4,691.4 L1927.6,691.4 L1929.8,691.5 L1931.9,691.5 L1934.1,691.6 L1936.3,691.6 L1938.4,691.7 L1940.6,691.8 L1942.8,691.8 L1944.9,691.9 L1947.1,692 L1949.3,692 L1951.4,692.1 L1953.6,692.2 L1955.8,692.3 L1957.9,692.4 L1960.1,692.4 L1962.3,692.5 L1964.5,692.6 L1966.6,692.7 L1968.8,692.8 L1971,693 L1973.1,693.1 L1975.3,693.2 L1977.5,693.3 L1979.6,693.5 L1981.8,693.6 L1984,693.7 L1986.1,693.9 L1988.3,694.1 L1990.5,694.2 L1992.6,694.4 L1994.8,694.6 L1997,694.8 L1999.1,695 L2001.3,695.2 L2003.5,695.4 L2005.7,695.6 L2007.8,695.8 L2010,696.1 L2012.2,696.3 L2014.3,696.6 L2016.5,696.8 L2018.7,697.1 L2020.8,697.4 L2023,697.7"/>
<path stroke="#ff6699" stroke-width="7.4" d="M290.5,872.8 L292.7,873 L294.8,873.3 L297,873.5 L299.2,873.8 L301.3,874 L303.5,874.2 L305.7,874.5 L307.8,874.7 L310,874.9 L312.2,875.2 L314.4,875.4 L316.5,875.6 L318.7,875.9 L320.9,876.1 L323,876.3 L325.2,876.6 L327.4,876.8 L329.5,877 L331.7,877.2 L333.9,877.4 L336,877.7 L338.2,877.9 L340.4,878.1 L342.5,878.3 L344.7,878.5 L346.9,878.7 L349,878.9 L351.2,879.1 L353.4,879.4 L355.6,879.6 L357.7,879.8 L359.9,880 L362.1,880.2 L364.2,880.3 L366.4,880.5 L368.6,880.7 L370.7,880.9 L372.9,881.1 L375.1,881.3 L377.2,881.5 L379.4,881.7 L381.6,881.9 L383.7,882 L385.9,882.2 L388.1,882.4 L390.2,882.6 L392.4,882.7 L394.6,882.9 L396.7,883.1 L398.9,883.2 L401.1,883.4 L403.3,883.6 L405.4,883.7 L407.6,883.9 L409.8,884 L411.9,884.2 L414.1,884.3 L416.3,884.5 L418.4,884.6 L420.6,884.8 L422.8,884.9 L424.9,885.1 L427.1,885.2 L429.3,885.3 L431.4,885.5 L433.6,885.6 L435.8,885.7 L437.9,885.8 L440.1,885.9 L442.3,886.1 L444.5,886.2 L446.6,886.3 L448.8,886.4 L451,886.5 L453.1,886.6 L455.3,886.7 L457.5,886.8 L459.6,886.9 L461.8,887 L464,887.1 L466.1,887.1 L468.3,887.2 L470.5,887.3 L472.6,887.4 L474.8,887.4 L477,887.5 L479.1,887.5 L481.3,887.6 L483.5,887.6 L485.7,887.7 L487.8,887.7 L490,887.7 L492.2,887.7 L494.3,887.8 L496.5,887.8 L498.7,887.8 L500.8,887.8 L503,887.8 L505.2,887.7 L507.3,887.7 L509.5,887.7 L511.7,887.6 L513.8,887.6 L516,887.5 L518.2,887.5 L520.3,887.4 L522.5,887.3 L524.7,887.2 L526.8,887 L529,886.9 L531.2,886.8 L533.4,886.6 L535.5,886.4 L537.7,886.2 L539.9,886 L542,885.8 L544.2,885.5 L546.4,885.3 L548.5,885 L550.7,884.7 L552.9,884.3 L555,884 L557.2,883.6 L559.4,883.2 L561.5,882.8 L563.7,882.3 L565.9,881.8 L568,881.3 L570.2,880.7 L572.4,880.2 L574.6,879.5 L576.7,878.9 L578.9,878.2 L581.1,877.5 L583.2,876.7 L585.4,875.9 L587.6,875 L589.7,874.2 L591.9,873.2 L594.1,872.3 L596.2,871.2 L598.4,870.2 L600.6,869.1 L602.7,867.9 L604.9,866.7 L607.1,865.5 L609.2,864.2 L611.4,862.9 L613.6,861.5 L615.8,860.1 L617.9,858.6 L620.1,857.1 L622.3,855.5 L624.4,853.9 L626.6,852.3 L628.8,850.6 L630.9,848.9 L633.1,847.1 L635.3,845.3 L637.4,843.5 L639.6,841.6 L641.8,839.7 L643.9,837.8 L646.1,835.9 L648.3,833.9 L650.4,831.9 L652.6,829.9 L654.8,827.9 L656.9,825.9 L659.1,823.9 L661.3,821.9 L663.5,819.9 L665.6,817.9 L667.8,815.9 L670,814 L672.1,812.1 L674.3,810.2 L676.5,808.4 L678.6,806.6 L680.8,804.9 L683,803.3 L685.1,801.7 L687.3,800.2 L689.5,798.8 L691.6,797.4 L693.8,796.2 L696,795 L698.1,793.9 L700.3,793 L702.5,792.1 L704.7,791.3 L706.8,790.6 L709,789.9 L711.2,789.4 L713.3,788.9 L715.5,788.5 L717.7,788.2 L719.8,787.9 L722,787.7 L724.2,787.5 L726.3,787.4 L728.5,787.3 L730.7,787.2 L732.8,787.1 L735,787 L737.2,787 L739.3,786.9 L741.5,786.9 L743.7,786.8 L745.9,786.7 L748,786.6 L750.2,786.5 L752.4,786.3 L754.5,786.2 L756.7,786 L758.9,785.8 L761,785.6 L763.2,785.4 L765.4,785.3 L767.5,785.1 L769.7,784.9 L771.9,784.7 L774,784.6 L776.2,784.5 L778.4,784.5 L780.5,784.5 L782.7,784.6 L784.9,784.8 L787,785.1 L789.2,785.4 L791.4,785.9 L793.6,786.4 L795.7,787.1 L797.9,787.9 L800.1,788.8 L802.2,789.8 L804.4,790.9 L806.6,792.1 L808.7,793.4 L810.9,794.8 L813.1,796.3 L815.2,797.9 L817.4,799.5 L819.6,801.2 L821.7,802.9 L823.9,804.6 L826.1,806.4 L828.2,808.2 L830.4,810 L832.6,811.7 L834.8,813.5 L836.9,815.2 L839.1,816.9 L841.3,818.6 L843.4,820.2 L845.6,821.8 L847.8,823.3 L849.9,824.8 L852.1,826.2 L854.3,827.5 L856.4,828.8 L858.6,830 L860.8,831.2 L862.9,832.3 L865.1,833.3 L867.3,834.2 L869.4,835.1 L871.6,835.9 L873.8,836.6 L876,837.3 L878.1,837.9 L880.3,838.4 L882.5,838.9 L884.6,839.3 L886.8,839.6 L889,839.9 L891.1,840.1 L893.3,840.3 L895.5,840.4 L897.6,840.4 L899.8,840.4 L902,840.3 L904.1,840.2 L906.3,840 L908.5,839.7 L910.6,839.4 L912.8,839 L915,838.6 L917.1,838.1 L919.3,837.5 L921.5,836.9 L923.7,836.3 L925.8,835.5 L928,834.8 L930.2,833.9 L932.3,833 L934.5,832 L936.7,831 L938.8,829.9 L941,828.8 L943.2,827.6 L945.3,826.3 L947.5,825 L949.7,823.5 L951.8,822.1 L954,820.5 L956.2,818.9 L958.3,817.2 L960.5,815.4 L962.7,813.6 L964.9,811.7 L967,809.7 L969.2,807.6 L971.4,805.4 L973.5,803.2 L975.7,800.9 L977.9,798.4 L980,795.9 L982.2,793.3 L984.4,790.6 L986.5,787.8 L988.7,784.9 L990.9,781.9 L993,778.8 L995.2,775.6 L997.4,772.2 L999.5,768.7 L1001.7,765.1 L1003.9,761.3 L1006.1,757.3 L1008.2,753.2 L1010.4,749 L1012.6,744.5 L1014.7,739.8 L1016.9,735 L1019.1,729.9 L1021.2,724.6 L1023.4,719.1 L1025.6,713.4 L1027.7,707.4 L1029.9,701.2 L1032.1,694.7 L1034.2,688 L1036.4,681.1 L1038.6,673.9 L1040,669 L1040.5,667.3 L1040.7,666.5 L1041,665.6 L1041.5,663.8 L1042,662.1 L1042.5,660.3 L1042.9,658.8 L1043,658.5 L1043.5,656.7 L1044,654.9 L1044.5,653.1 L1045,651.2 L1045.1,650.9 L1045.5,649.4 L1046,647.6 L1046.5,645.7 L1047,643.8 L1047.2,642.9 L1047.5,641.9 L1048,640.1 L1048.5,638.2 L1049,636.3 L1049.4,634.7 L1049.5,634.3 L1050,632.4 L1050.5,630.5 L1051,628.6 L1051.5,626.6 L1051.6,626.3 L1052,624.7 L1052.5,622.7 L1053,620.7 L1053.5,618.8 L1053.8,617.8 L1054,616.8 L1054.5,614.8 L1055,612.8 L1055.5,610.8 L1055.9,609.2 L1056,608.8 L1056.5,606.9 L1057,604.9 L1057.5,602.9 L1058,600.9 L1058.1,600.5 L1058.5,598.8 L1059,596.8 L1059.5,594.8 L1060,592.8 L1060.3,591.8 L1060.5,590.8 L1061,588.8 L1061.5,586.8 L1062,584.8 L1062.4,583.1 L1062.5,582.8 L1063,580.8 L1063.5,578.8 L1064,576.9 L1064.5,574.9 L1064.6,574.5 L1065,572.9 L1065.5,570.9 L1066,569 L1066.5,567 L1066.8,566 L1067,565.1 L1067.5,563.2 L1068,561.2 L1068.5,559.3 L1068.9,557.7 L1069,557.4 L1069.5,555.5 L1070,553.6 L1070.5,551.8 L1071,549.9 L1071.1,549.5 L1071.5,548.1 L1072,546.2 L1072.5,544.4 L1073,542.6 L1073.3,541.7 L1073.5,540.9 L1074,539.1 L1074.5,537.4 L1075,535.6 L1075.4,534.1 L1075.5,533.9 L1076,532.2 L1076.5,530.6 L1077,528.9 L1077.5,527.3 L1077.6,527 L1078,525.7 L1078.5,524.1 L1079,522.6 L1079.5,521.1 L1079.8,520.2 L1080,519.6 L1080.5,518.1 L1081,516.7 L1081.5,515.2 L1081.9,514 L1082,513.8 L1082.5,512.5 L1083,511.1 L1083.5,509.8 L1084,508.6 L1084.1,508.3 L1084.5,507.3 L1085,506.1 L1085.5,504.9 L1086,503.8 L1086.3,503.1 L1086.5,502.7 L1087,501.6 L1087.5,500.5 L1088,499.5 L1088.4,498.6 L1088.5,498.5 L1089,497.6 L1089.5,496.7 L1090,495.8 L1090.5,495 L1090.6,494.8 L1091,494.2 L1091.5,493.4 L1092,492.7 L1092.5,492 L1092.8,491.6 L1093,491.3 L1093.5,490.7 L1094,490.2 L1094.5,489.6 L1095,489.2 L1095,489.1 L1095.5,488.7 L1096,488.3 L1096.5,487.9 L1097,487.6 L1097.1,487.5 L1097.5,487.3 L1098,487 L1098.5,486.8 L1099,486.6 L1099.3,486.5 L1099.5,486.5 L1100,486.4 L1100.5,486.3 L1101,486.3 L1101.5,486.4 L1101.5,486.4 L1102,486.4 L1102.5,486.5 L1103,486.7 L1103.5,486.9 L1103.6,486.9 L1104,487.1 L1104.5,487.4 L1105,487.7 L1105.5,488.1 L1105.8,488.4 L1106,488.6 L1106.5,489.1 L1107,489.6 L1107.5,490.3 L1108,490.9 L1108,490.9 L1108.5,491.7 L1109,492.4 L1109.5,493.3 L1110,494.2 L1110.1,494.4 L1110.5,495.1 L1111,496.1 L1111.5,497.1 L1112,498.2 L1112.3,498.9 L1112.5,499.4 L1113,500.6 L1113.5,501.8 L1114,503.1 L1114.5,504.3 L1114.5,504.4 L1115,505.8 L1115.5,507.2 L1116,508.7 L1116.5,510.2 L1116.6,510.6 L1117,511.7 L1117.5,513.3 L1118,515 L1118.5,516.6 L1118.8,517.7 L1119,518.3 L1119.5,520.1 L1120,521.9 L1120.5,523.7 L1121,525.4 L1121,525.5 L1121.5,527.4 L1122,529.3 L1122.5,531.3 L1123,533.3 L1123.1,533.8 L1123.5,535.3 L1124,537.3 L1124.5,539.3 L1125,541.4 L1125.3,542.7 L1125.5,543.5 L1126,545.7 L1126.5,547.8 L1127,550 L1127.5,552.1 L1127.5,552.2 L1128,554.4 L1128.5,556.6 L1129,558.9 L1129.5,561.1 L1129.6,561.8 L1130,563.4 L1130.5,565.7 L1131,568 L1131.5,570.3 L1131.8,571.8 L1132,572.6 L1132.5,575 L1133,577.3 L1133.5,579.7 L1134,581.9 L1134,582 L1134.5,584.4 L1135,586.8 L1135.5,589.1 L1136,591.5 L1136.2,592.2 L1136.5,593.9 L1137,596.3 L1137.5,598.7 L1138,601 L1138.3,602.6 L1138.5,603.4 L1139,605.8 L1139.5,608.2 L1140,610.5 L1140.5,612.9 L1140.5,612.9 L1141,615.3 L1141.5,617.7 L1142,620 L1142.5,622.4 L1142.7,623.1 L1143,624.7 L1143.5,627 L1144,629.4 L1144.5,631.7 L1144.8,633.2 L1145,634 L1145.5,636.3 L1146,638.6 L1146.5,640.9 L1147,643.1 L1147,643.2 L1147.5,645.4 L1148,647.7 L1148.5,649.9 L1149,652.1 L1149.2,652.8 L1149.5,654.3 L1150,656.5 L1151.3,662.3 L1153.5,671.5 L1155.7,680.5 L1157.8,689.1 L1160,697.5 L1162.2,705.5 L1164.3,713.2 L1166.5,720.6 L1168.7,727.6 L1170.8,734.4 L1173,740.9 L1175.2,747.1 L1177.3,753 L1179.5,758.6 L1181.7,764 L1183.9,769.2 L1186,774.1 L1188.2,778.7 L1190.4,783.2 L1192.5,787.5 L1194.7,791.5 L1196.9,795.4 L1199,799.1 L1201.2,802.7 L1203.4,806.1 L1205.5,809.3 L1207.7,812.4 L1209.9,815.4 L1212,818.3 L1214.2,821 L1216.4,823.6 L1218.5,826.2 L1220.7,828.6 L1222.9,830.9 L1225.1,833.1 L1227.2,835.3 L1229.4,837.3 L1231.6,839.3 L1233.7,841.2 L1235.9,843 L1238.1,844.8 L1240.2,846.5 L1242.4,848.2 L1244.6,849.7 L1246.7,851.2 L1248.9,852.7 L1251.1,854.1 L1253.2,855.5 L1255.4,856.8 L1257.6,858.1 L1259.7,859.3 L1261.9,860.5 L1264.1,861.6 L1266.3,862.7 L1268.4,863.8 L1270.6,864.8 L1272.8,865.8 L1274.9,866.8 L1277.1,867.7 L1279.3,868.6 L1281.4,869.5 L1283.6,870.3 L1285.8,871.2 L1287.9,872 L1290.1,872.7 L1292.3,873.5 L1294.4,874.2 L1296.6,874.9 L1298.8,875.6 L1300.9,876.2 L1303.1,876.9 L1305.3,877.5 L1307.4,878.1 L1309.6,878.7 L1311.8,879.2 L1314,879.8 L1316.1,880.3 L1318.3,880.9 L1320.5,881.4 L1322.6,881.9 L1324.8,882.3 L1327,882.8 L1329.1,883.3 L1331.3,883.7 L1333.5,884.1 L1335.6,884.5 L1337.8,885 L1340,885.4 L1342.1,885.7 L1344.3,886.1 L1346.5,886.5 L1348.6,886.9 L1350.8,887.2 L1353,887.6 L1355.2,887.9 L1357.3,888.2 L1359.5,888.6 L1361.7,888.9 L1363.8,889.2 L1366,889.5 L1368.2,889.8 L1370.3,890.1 L1372.5,890.3 L1374.7,890.6 L1376.8,890.9 L1379,891.2 L1381.2,891.4 L1383.3,891.7 L1385.5,891.9 L1387.7,892.2 L1389.8,892.4 L1392,892.7 L1394.2,892.9 L1396.4,893.1 L1398.5,893.4 L1400.7,893.6 L1402.9,893.8 L1405,894 L1407.2,894.2 L1409.4,894.4 L1411.5,894.7 L1413.7,894.9 L1415.9,895.1 L1418,895.3 L1420.2,895.5 L1422.4,895.7 L1424.5,895.8 L1426.7,896 L1428.9,896.2 L1431,896.4 L1433.2,896.6 L1435.4,896.8 L1437.5,897 L1439.7,897.1 L1441.9,897.3 L1444.1,897.5 L1446.2,897.7 L1448.4,897.8 L1450.6,898 L1452.7,898.2 L1454.9,898.4 L1457.1,898.5 L1459.2,898.7 L1461.4,898.9 L1463.6,899 L1465.7,899.2 L1467.9,899.4 L1470.1,899.5 L1472.2,899.7 L1474.4,899.9 L1476.6,900.1 L1478.7,900.3 L1480.9,900.4 L1483.1,900.6 L1485.3,900.8 L1487.4,901 L1489.6,901.2 L1491.8,901.5 L1493.9,901.7 L1496.1,901.9 L1498.3,902.1 L1500.4,902.3 L1502.6,902.6 L1504.8,902.8 L1506.9,903 L1509.1,903.2 L1511.3,903.5 L1513.4,903.7 L1515.6,903.9 L1517.8,904.1 L1519.9,904.4 L1522.1,904.6 L1524.3,904.8 L1526.5,905 L1528.6,905.2 L1530.8,905.3 L1533,905.5 L1535.1,905.7 L1537.3,905.8 L1539.5,906 L1541.6,906.1 L1543.8,906.2 L1546,906.4 L1548.1,906.5 L1550.3,906.6 L1552.5,906.7 L1554.6,906.8 L1556.8,906.9 L1559,906.9 L1561.1,907 L1563.3,907.1 L1565.5,907.1 L1567.6,907.2 L1569.8,907.2 L1572,907.2 L1574.2,907.3 L1576.3,907.3 L1578.5,907.3 L1580.7,907.3 L1582.8,907.2 L1585,907.2 L1587.2,907.2 L1589.3,907.1 L1591.5,907.1 L1593.7,907 L1595.8,906.9 L1598,906.8 L1600.2,906.7 L1602.3,906.6 L1604.5,906.5 L1606.7,906.4 L1608.8,906.2 L1611,906.1 L1613.2,905.9 L1615.4,905.7 L1617.5,905.5 L1619.7,905.3 L1621.9,905.1 L1624,904.9 L1626.2,904.6 L1628.4,904.4 L1630.5,904.1 L1632.7,903.8 L1634.9,903.5 L1637,903.3 L1639.2,902.9 L1641.4,902.6 L1643.5,902.3 L1645.7,901.9 L1647.9,901.6 L1650,901.2 L1652.2,900.8 L1654.4,900.4 L1656.6,900 L1658.7,899.6 L1660.9,899.1 L1663.1,898.7 L1665.2,898.2 L1667.4,897.8 L1669.6,897.3 L1671.7,896.8 L1673.9,896.2 L1676.1,895.7 L1678.2,895.2 L1680.4,894.6 L1682.6,894.1 L1684.7,893.5 L1686.9,892.9 L1689.1,892.3 L1691.2,891.7 L1693.4,891.1 L1695.6,890.5 L1697.7,889.9 L1698.7,889.7 L1699.7,889.4 L1699.9,889.4 L1700.7,889.2 L1701.7,888.9 L1702.1,888.8 L1702.7,888.7 L1703.7,888.5 L1704.3,888.3 L1704.7,888.2 L1705.7,888 L1706.4,887.9 L1706.7,887.8 L1707.7,887.6 L1708.6,887.4 L1708.7,887.4 L1709.7,887.2 L1710.7,887.1 L1710.8,887.1 L1711.7,886.9 L1712.7,886.7 L1712.9,886.7 L1713.7,886.6 L1714.7,886.5 L1715.1,886.4 L1715.7,886.4 L1716.7,886.2 L1717.3,886.2 L1717.7,886.2 L1718.7,886.1 L1719.4,886 L1719.7,886 L1720.7,885.9 L1721.6,885.9 L1721.7,885.9 L1722.7,885.9 L1723.7,885.9 L1723.8,885.9 L1724.7,885.9 L1725.7,885.9 L1725.9,885.9 L1726.7,886 L1727.7,886 L1728.1,886 L1728.7,886.1 L1729.7,886.3 L1730.3,886.5 L1730.7,886.6 L1731.7,886.8 L1732.4,887 L1732.7,887.1 L1733.7,887.3 L1734.6,887.5 L1734.7,887.5 L1735.7,887.8 L1736.7,888 L1736.8,888 L1737.7,888.2 L1738.7,888.5 L1738.9,888.5 L1739.7,888.7 L1740.7,888.9 L1741.1,889 L1741.7,889.1 L1742.7,889.4 L1743.3,889.5 L1743.7,889.6 L1744.7,889.8 L1745.5,890 L1745.7,890 L1746.7,890.2 L1747.6,890.4 L1747.7,890.4 L1748.7,890.6 L1749.7,890.9 L1749.8,890.9 L1750.7,891.1 L1751.7,891.3 L1752,891.3 L1752.7,891.5 L1753.7,891.7 L1754.1,891.7 L1754.7,891.9 L1755.7,892 L1756.3,892.2 L1756.7,892.2 L1757.7,892.4 L1758.5,892.6 L1758.7,892.6 L1760.6,893 L1762.8,893.4 L1765,893.8 L1767.1,894.1 L1769.3,894.5 L1771.5,894.9 L1773.6,895.2 L1775.8,895.6 L1778,895.9 L1780.1,896.2 L1782.3,896.6 L1784.5,896.9 L1786.7,897.2 L1788.8,897.5 L1791,897.8 L1793.2,898.1 L1795.3,898.4 L1797.5,898.6 L1799.7,898.9 L1801.8,899.2 L1804,899.4 L1806.2,899.7 L1808.3,899.9 L1810.5,900.2 L1812.7,900.4 L1814.8,900.6 L1817,900.8 L1819.2,901.1 L1821.3,901.3 L1823.5,901.5 L1825.7,901.7 L1827.8,901.9 L1830,902.1 L1832.2,902.3 L1834.4,902.4 L1836.5,902.6 L1838.7,902.8 L1840.9,903 L1843,903.1 L1845.2,903.3 L1847.4,903.4 L1849.5,903.6 L1851.7,903.7 L1853.9,903.9 L1856,904 L1858.2,904.2 L1860.4,904.3 L1862.5,904.4 L1864.7,904.6 L1866.9,904.7 L1869,904.8 L1871.2,904.9 L1873.4,905.1 L1875.6,905.2 L1877.7,905.3 L1879.9,905.4 L1882.1,905.5 L1884.2,905.6 L1886.4,905.7 L1888.6,905.9 L1890.7,906 L1892.9,906.1 L1895.1,906.2 L1897.2,906.3 L1899.4,906.4 L1901.6,906.5 L1903.7,906.6 L1905.9,906.7 L1908.1,906.8 L1910.2,906.9 L1912.4,907 L1914.6,907.1 L1916.8,907.2 L1918.9,907.3 L1921.1,907.4 L1923.3,907.5 L1925.4,907.6 L1927.6,907.7 L1929.8,907.8 L1931.9,907.9 L1934.1,908 L1936.3,908.1 L1938.4,908.2 L1940.6,908.3 L1942.8,908.4 L1944.9,908.5 L1947.1,908.6 L1949.3,908.7 L1951.4,908.8 L1953.6,908.9 L1955.8,909.1 L1957.9,909.2 L1960.1,909.3 L1962.3,909.4 L1964.5,909.6 L1966.6,909.7 L1968.8,909.8 L1971,910 L1973.1,910.1 L1975.3,910.2 L1977.5,910.4 L1979.6,910.5 L1981.8,910.7 L1984,910.9 L1986.1,911 L1988.3,911.2 L1990.5,911.4 L1992.6,911.5 L1994.8,911.7 L1997,911.9 L1999.1,912.1 L2001.3,912.3 L2003.5,912.5 L2005.7,912.7 L2007.8,912.9 L2010,913.1 L2012.2,913.3 L2014.3,913.5 L2016.5,913.8 L2018.7,914 L2020.8,914.2 L2023,914.5"/>
<path stroke="#0075c8" stroke-width="7.4" d="M290.5,1097.8 L292.7,1097.9 L294.8,1098 L297,1098.2 L299.2,1098.3 L301.3,1098.4 L303.5,1098.5 L305.7,1098.7 L307.8,1098.8 L310,1098.9 L312.2,1099 L314.4,1099.2 L316.5,1099.3 L318.7,1099.4 L320.9,1099.5 L323,1099.7 L325.2,1099.8 L327.4,1099.9 L329.5,1100 L331.7,1100.1 L333.9,1100.2 L336,1100.4 L338.2,1100.5 L340.4,1100.6 L342.5,1100.7 L344.7,1100.8 L346.9,1100.9 L349,1101 L351.2,1101.2 L353.4,1101.3 L355.6,1101.4 L357.7,1101.5 L359.9,1101.6 L362.1,1101.7 L364.2,1101.8 L366.4,1101.9 L368.6,1102 L370.7,1102.1 L372.9,1102.2 L375.1,1102.3 L377.2,1102.4 L379.4,1102.5 L381.6,1102.6 L383.7,1102.7 L385.9,1102.8 L388.1,1102.9 L390.2,1103 L392.4,1103.1 L394.6,1103.2 L396.7,1103.2 L398.9,1103.3 L401.1,1103.4 L403.3,1103.5 L405.4,1103.6 L407.6,1103.7 L409.8,1103.8 L411.9,1103.8 L414.1,1103.9 L416.3,1104 L418.4,1104.1 L420.6,1104.2 L422.8,1104.2 L424.9,1104.3 L427.1,1104.4 L429.3,1104.4 L431.4,1104.5 L433.6,1104.6 L435.8,1104.7 L437.9,1104.7 L440.1,1104.8 L442.3,1104.8 L444.5,1104.9 L446.6,1105 L448.8,1105 L451,1105.1 L453.1,1105.1 L455.3,1105.2 L457.5,1105.2 L459.6,1105.3 L461.8,1105.3 L464,1105.4 L466.1,1105.4 L468.3,1105.4 L470.5,1105.5 L472.6,1105.5 L474.8,1105.5 L477,1105.6 L479.1,1105.6 L481.3,1105.6 L483.5,1105.6 L485.7,1105.7 L487.8,1105.7 L490,1105.7 L492.2,1105.7 L494.3,1105.7 L496.5,1105.7 L498.7,1105.7 L500.8,1105.7 L503,1105.7 L505.2,1105.7 L507.3,1105.6 L509.5,1105.6 L511.7,1105.6 L513.8,1105.5 L516,1105.5 L518.2,1105.4 L520.3,1105.4 L522.5,1105.3 L524.7,1105.2 L526.8,1105.1 L529,1105 L531.2,1104.9 L533.4,1104.7 L535.5,1104.6 L537.7,1104.4 L539.9,1104.2 L542,1104 L544.2,1103.8 L546.4,1103.6 L548.5,1103.3 L550.7,1103 L552.9,1102.7 L555,1102.4 L557.2,1102 L559.4,1101.6 L561.5,1101.2 L563.7,1100.7 L565.9,1100.2 L568,1099.7 L570.2,1099.1 L572.4,1098.5 L574.6,1097.9 L576.7,1097.2 L578.9,1096.4 L581.1,1095.6 L583.2,1094.8 L585.4,1093.9 L587.6,1092.9 L589.7,1091.9 L591.9,1090.9 L594.1,1089.8 L596.2,1088.6 L598.4,1087.4 L600.6,1086.1 L602.7,1084.7 L604.9,1083.3 L607.1,1081.8 L609.2,1080.3 L611.4,1078.7 L613.6,1077.1 L615.8,1075.4 L617.9,1073.7 L620.1,1071.9 L622.3,1070.1 L624.4,1068.2 L626.6,1066.3 L628.8,1064.3 L630.9,1062.3 L633.1,1060.3 L635.3,1058.2 L637.4,1056.1 L639.6,1054.1 L641.8,1052 L643.9,1049.9 L646.1,1047.8 L648.3,1045.7 L650.4,1043.6 L652.6,1041.5 L654.8,1039.5 L656.9,1037.5 L659.1,1035.5 L661.3,1033.6 L663.5,1031.8 L665.6,1030 L667.8,1028.2 L670,1026.6 L672.1,1025 L674.3,1023.5 L676.5,1022.1 L678.6,1020.8 L680.8,1019.5 L683,1018.4 L685.1,1017.4 L687.3,1016.4 L689.5,1015.6 L691.6,1014.8 L693.8,1014.2 L696,1013.6 L698.1,1013.1 L700.3,1012.7 L702.5,1012.4 L704.7,1012.1 L706.8,1011.9 L709,1011.7 L711.2,1011.6 L713.3,1011.5 L715.5,1011.4 L717.7,1011.4 L719.8,1011.4 L722,1011.4 L724.2,1011.4 L726.3,1011.4 L728.5,1011.4 L730.7,1011.4 L732.8,1011.4 L735,1011.4 L737.2,1011.3 L739.3,1011.3 L741.5,1011.2 L743.7,1011.1 L745.9,1011 L748,1010.9 L750.2,1010.8 L752.4,1010.8 L754.5,1010.7 L756.7,1010.6 L758.9,1010.5 L761,1010.5 L763.2,1010.5 L765.4,1010.6 L767.5,1010.7 L769.7,1010.9 L771.9,1011.2 L774,1011.5 L776.2,1011.9 L778.4,1012.4 L780.5,1013 L782.7,1013.6 L784.9,1014.4 L787,1015.3 L789.2,1016.2 L791.4,1017.3 L793.6,1018.4 L795.7,1019.6 L797.9,1020.9 L800.1,1022.2 L802.2,1023.6 L804.4,1025.1 L806.6,1026.6 L808.7,1028.1 L810.9,1029.7 L813.1,1031.2 L815.2,1032.8 L817.4,1034.4 L819.6,1036 L821.7,1037.6 L823.9,1039.1 L826.1,1040.7 L828.2,1042.2 L830.4,1043.6 L832.6,1045.1 L834.8,1046.5 L836.9,1047.8 L839.1,1049.1 L841.3,1050.4 L843.4,1051.6 L845.6,1052.7 L847.8,1053.8 L849.9,1054.9 L852.1,1055.9 L854.3,1056.8 L856.4,1057.7 L858.6,1058.5 L860.8,1059.3 L862.9,1060 L865.1,1060.7 L867.3,1061.3 L869.4,1061.8 L871.6,1062.3 L873.8,1062.8 L876,1063.2 L878.1,1063.5 L880.3,1063.8 L882.5,1064 L884.6,1064.1 L886.8,1064.3 L889,1064.3 L891.1,1064.3 L893.3,1064.3 L895.5,1064.2 L897.6,1064 L899.8,1063.8 L902,1063.6 L904.1,1063.3 L906.3,1062.9 L908.5,1062.5 L910.6,1062 L912.8,1061.5 L915,1061 L917.1,1060.3 L919.3,1059.7 L921.5,1058.9 L923.7,1058.2 L925.8,1057.3 L928,1056.5 L930.2,1055.5 L932.3,1054.5 L934.5,1053.5 L936.7,1052.3 L938.8,1051.2 L941,1049.9 L943.2,1048.7 L945.3,1047.3 L947.5,1045.9 L949.7,1044.4 L951.8,1042.9 L954,1041.2 L956.2,1039.6 L958.3,1037.8 L960.5,1036 L962.7,1034.1 L964.9,1032.1 L967,1030 L969.2,1027.9 L971.4,1025.6 L973.5,1023.3 L975.7,1020.8 L977.9,1018.3 L980,1015.7 L982.2,1012.9 L984.4,1010.1 L986.5,1007.1 L988.7,1004 L990.9,1000.8 L993,997.4 L995.2,993.9 L997.4,990.2 L999.5,986.4 L1001.7,982.4 L1003.9,978.2 L1006.1,973.9 L1008.2,969.3 L1010.4,964.6 L1012.6,959.6 L1014.7,954.4 L1016.9,948.9 L1019.1,943.3 L1021.2,937.3 L1023.4,931.2 L1025.6,924.8 L1027.7,918.1 L1029.9,911.2 L1032.1,904.1 L1034.2,896.8 L1036.4,889.2 L1038.6,881.4 L1040,876.3 L1040.5,874.4 L1040.7,873.5 L1041,872.6 L1041.5,870.7 L1042,868.9 L1042.5,867 L1042.9,865.5 L1043,865.2 L1043.5,863.3 L1044,861.4 L1044.5,859.5 L1045,857.6 L1045.1,857.3 L1045.5,855.8 L1046,853.9 L1046.5,852 L1047,850.1 L1047.2,849.1 L1047.5,848.2 L1048,846.3 L1048.5,844.4 L1049,842.5 L1049.4,840.9 L1049.5,840.6 L1050,838.6 L1050.5,836.7 L1051,834.9 L1051.5,833 L1051.6,832.6 L1052,831.1 L1052.5,829.2 L1053,827.3 L1053.5,825.4 L1053.8,824.5 L1054,823.5 L1054.5,821.7 L1055,819.8 L1055.5,818 L1055.9,816.4 L1056,816.1 L1056.5,814.3 L1057,812.4 L1057.5,810.6 L1058,808.8 L1058.1,808.5 L1058.5,807 L1059,805.2 L1059.5,803.4 L1060,801.7 L1060.3,800.8 L1060.5,799.9 L1061,798.2 L1061.5,796.5 L1062,794.8 L1062.4,793.3 L1062.5,793.1 L1063,791.4 L1063.5,789.8 L1064,788.1 L1064.5,786.5 L1064.6,786.2 L1065,784.9 L1065.5,783.3 L1066,781.8 L1066.5,780.2 L1066.8,779.4 L1067,778.7 L1067.5,777.2 L1068,775.7 L1068.5,774.2 L1068.9,773 L1069,772.8 L1069.5,771.4 L1070,770 L1070.5,768.7 L1071,767.3 L1071.1,767.1 L1071.5,766 L1072,764.7 L1072.5,763.5 L1073,762.2 L1073.3,761.6 L1073.5,761 L1074,759.8 L1074.5,758.7 L1075,757.6 L1075.4,756.6 L1075.5,756.5 L1076,755.4 L1076.5,754.4 L1077,753.4 L1077.5,752.4 L1077.6,752.2 L1078,751.5 L1078.5,750.6 L1079,749.7 L1079.5,748.8 L1079.8,748.4 L1080,748 L1080.5,747.2 L1081,746.5 L1081.5,745.8 L1081.9,745.2 L1082,745.1 L1082.5,744.4 L1083,743.8 L1083.5,743.2 L1084,742.7 L1084.1,742.6 L1084.5,742.2 L1085,741.7 L1085.5,741.3 L1086,740.9 L1086.3,740.6 L1086.5,740.5 L1087,740.1 L1087.5,739.8 L1088,739.6 L1088.4,739.4 L1088.5,739.3 L1089,739.1 L1089.5,739 L1090,738.8 L1090.5,738.8 L1090.6,738.7 L1091,738.7 L1091.5,738.7 L1092,738.7 L1092.5,738.7 L1092.8,738.8 L1093,738.8 L1093.5,738.9 L1094,739.1 L1094.5,739.3 L1095,739.5 L1095,739.5 L1095.5,739.8 L1096,740.1 L1096.5,740.4 L1097,740.8 L1097.1,740.8 L1097.5,741.1 L1098,741.6 L1098.5,742 L1099,742.5 L1099.3,742.8 L1099.5,743.1 L1100,743.6 L1100.5,744.2 L1101,744.9 L1101.5,745.5 L1101.5,745.5 L1102,746.3 L1102.5,747.1 L1103,748 L1103.5,748.9 L1103.6,749.1 L1104,749.9 L1104.5,750.9 L1105,752 L1105.5,753.1 L1105.8,753.8 L1106,754.3 L1106.5,755.5 L1107,756.8 L1107.5,758.2 L1108,759.4 L1108,759.5 L1108.5,761 L1109,762.5 L1109.5,764 L1110,765.6 L1110.1,766 L1110.5,767.2 L1111,768.8 L1111.5,770.6 L1112,772.3 L1112.3,773.4 L1112.5,774.1 L1113,775.9 L1113.5,777.8 L1114,779.7 L1114.5,781.5 L1114.5,781.6 L1115,783.6 L1115.5,785.6 L1116,787.6 L1116.5,789.6 L1116.6,790.2 L1117,791.7 L1117.5,793.8 L1118,796 L1118.5,798.2 L1118.8,799.5 L1119,800.3 L1119.5,802.6 L1120,804.8 L1120.5,807 L1121,809.2 L1121,809.3 L1121.5,811.6 L1122,813.9 L1122.5,816.2 L1123,818.5 L1123.1,819.2 L1123.5,820.9 L1124,823.2 L1124.5,825.6 L1125,828 L1125.3,829.5 L1125.5,830.4 L1126,832.8 L1126.5,835.2 L1127,837.6 L1127.5,839.9 L1127.5,840 L1128,842.4 L1128.5,844.8 L1129,847.2 L1129.5,849.6 L1129.6,850.3 L1130,852 L1130.5,854.4 L1131,856.8 L1131.5,859.2 L1131.8,860.7 L1132,861.6 L1132.5,864 L1133,866.4 L1133.5,868.8 L1134,871 L1134,871.1 L1134.5,873.5 L1135,875.8 L1135.5,878.2 L1136,880.5 L1136.2,881.2 L1136.5,882.8 L1137,885.1 L1137.5,887.4 L1138,889.7 L1138.3,891.2 L1138.5,892 L1139,894.2 L1139.5,896.5 L1140,898.7 L1140.5,900.9 L1140.5,900.9 L1141,903.1 L1141.5,905.3 L1142,907.5 L1142.5,909.6 L1142.7,910.3 L1143,911.8 L1143.5,913.9 L1144,916 L1144.5,918.1 L1144.8,919.4 L1145,920.2 L1145.5,922.2 L1146,924.3 L1146.5,926.3 L1147,928.2 L1147,928.3 L1147.5,930.3 L1148,932.2 L1148.5,934.2 L1149,936.1 L1149.2,936.7 L1149.5,938 L1150,939.9 L1151.3,944.8 L1153.5,952.6 L1155.7,960 L1157.8,967.1 L1160,973.8 L1162.2,980.2 L1164.3,986.3 L1166.5,992.1 L1168.7,997.7 L1170.8,1002.9 L1173,1007.8 L1175.2,1012.6 L1177.3,1017 L1179.5,1021.3 L1181.7,1025.3 L1183.9,1029.2 L1186,1032.8 L1188.2,1036.3 L1190.4,1039.6 L1192.5,1042.8 L1194.7,1045.8 L1196.9,1048.7 L1199,1051.4 L1201.2,1054 L1203.4,1056.5 L1205.5,1058.9 L1207.7,1061.2 L1209.9,1063.3 L1212,1065.4 L1214.2,1067.4 L1216.4,1069.3 L1218.5,1071.1 L1220.7,1072.9 L1222.9,1074.6 L1225.1,1076.2 L1227.2,1077.7 L1229.4,1079.2 L1231.6,1080.6 L1233.7,1081.9 L1235.9,1083.2 L1238.1,1084.5 L1240.2,1085.7 L1242.4,1086.9 L1244.6,1088 L1246.7,1089 L1248.9,1090.1 L1251.1,1091 L1253.2,1092 L1255.4,1092.9 L1257.6,1093.8 L1259.7,1094.6 L1261.9,1095.4 L1264.1,1096.2 L1266.3,1097 L1268.4,1097.7 L1270.6,1098.4 L1272.8,1099 L1274.9,1099.7 L1277.1,1100.3 L1279.3,1100.9 L1281.4,1101.5 L1283.6,1102 L1285.8,1102.6 L1287.9,1103.1 L1290.1,1103.6 L1292.3,1104.1 L1294.4,1104.5 L1296.6,1105 L1298.8,1105.4 L1300.9,1105.8 L1303.1,1106.2 L1305.3,1106.6 L1307.4,1107 L1309.6,1107.4 L1311.8,1107.7 L1314,1108 L1316.1,1108.4 L1318.3,1108.7 L1320.5,1109 L1322.6,1109.3 L1324.8,1109.5 L1327,1109.8 L1329.1,1110.1 L1331.3,1110.3 L1333.5,1110.6 L1335.6,1110.8 L1337.8,1111 L1340,1111.2 L1342.1,1111.5 L1344.3,1111.7 L1346.5,1111.9 L1348.6,1112.1 L1350.8,1112.2 L1353,1112.4 L1355.2,1112.6 L1357.3,1112.8 L1359.5,1112.9 L1361.7,1113.1 L1363.8,1113.2 L1366,1113.4 L1368.2,1113.5 L1370.3,1113.6 L1372.5,1113.8 L1374.7,1113.9 L1376.8,1114 L1379,1114.2 L1381.2,1114.3 L1383.3,1114.4 L1385.5,1114.5 L1387.7,1114.6 L1389.8,1114.7 L1392,1114.8 L1394.2,1114.9 L1396.4,1115 L1398.5,1115.1 L1400.7,1115.2 L1402.9,1115.3 L1405,1115.4 L1407.2,1115.5 L1409.4,1115.5 L1411.5,1115.6 L1413.7,1115.7 L1415.9,1115.8 L1418,1115.9 L1420.2,1116 L1422.4,1116 L1424.5,1116.1 L1426.7,1116.2 L1428.9,1116.3 L1431,1116.3 L1433.2,1116.4 L1435.4,1116.5 L1437.5,1116.6 L1439.7,1116.6 L1441.9,1116.7 L1444.1,1116.8 L1446.2,1116.9 L1448.4,1116.9 L1450.6,1117 L1452.7,1117.1 L1454.9,1117.2 L1457.1,1117.2 L1459.2,1117.3 L1461.4,1117.4 L1463.6,1117.5 L1465.7,1117.6 L1467.9,1117.6 L1470.1,1117.7 L1472.2,1117.8 L1474.4,1117.9 L1476.6,1118 L1478.7,1118.1 L1480.9,1118.2 L1483.1,1118.4 L1485.3,1118.5 L1487.4,1118.6 L1489.6,1118.8 L1491.8,1118.9 L1493.9,1119 L1496.1,1119.2 L1498.3,1119.4 L1500.4,1119.5 L1502.6,1119.7 L1504.8,1119.8 L1506.9,1120 L1509.1,1120.2 L1511.3,1120.3 L1513.4,1120.5 L1515.6,1120.6 L1517.8,1120.8 L1519.9,1120.9 L1522.1,1121.1 L1524.3,1121.2 L1526.5,1121.3 L1528.6,1121.4 L1530.8,1121.5 L1533,1121.6 L1535.1,1121.7 L1537.3,1121.8 L1539.5,1121.9 L1541.6,1121.9 L1543.8,1122 L1546,1122 L1548.1,1122 L1550.3,1122.1 L1552.5,1122.1 L1554.6,1122.1 L1556.8,1122.1 L1559,1122.1 L1561.1,1122.1 L1563.3,1122 L1565.5,1122 L1567.6,1121.9 L1569.8,1121.9 L1572,1121.8 L1574.2,1121.7 L1576.3,1121.6 L1578.5,1121.5 L1580.7,1121.3 L1582.8,1121.2 L1585,1121 L1587.2,1120.9 L1589.3,1120.7 L1591.5,1120.5 L1593.7,1120.3 L1595.8,1120.1 L1598,1119.8 L1600.2,1119.6 L1602.3,1119.3 L1604.5,1119 L1606.7,1118.7 L1608.8,1118.4 L1611,1118.1 L1613.2,1117.7 L1615.4,1117.3 L1617.5,1117 L1619.7,1116.6 L1621.9,1116.1 L1624,1115.7 L1626.2,1115.2 L1628.4,1114.8 L1630.5,1114.3 L1632.7,1113.7 L1634.9,1113.2 L1637,1112.6 L1639.2,1112.1 L1641.4,1111.5 L1643.5,1110.9 L1645.7,1110.2 L1647.9,1109.6 L1650,1109 L1652.2,1108.3 L1654.4,1107.7 L1656.6,1107 L1658.7,1106.3 L1660.9,1105.6 L1663.1,1104.9 L1665.2,1104.3 L1667.4,1103.6 L1669.6,1102.9 L1671.7,1102.2 L1673.9,1101.5 L1676.1,1100.8 L1678.2,1100.2 L1680.4,1099.5 L1682.6,1098.8 L1684.7,1098.2 L1686.9,1097.5 L1689.1,1096.9 L1691.2,1096.3 L1693.4,1095.7 L1693.7,1095.6 L1694.7,1095.3 L1695.6,1095.1 L1695.7,1095.1 L1696.7,1094.8 L1697.7,1094.6 L1697.7,1094.5 L1698.7,1094.3 L1699.7,1094 L1699.9,1094 L1700.7,1093.8 L1701.7,1093.6 L1702.1,1093.5 L1702.7,1093.3 L1703.7,1093.1 L1704.3,1092.9 L1704.7,1092.8 L1705.7,1092.6 L1706.4,1092.5 L1706.7,1092.4 L1707.7,1092.2 L1708.6,1092 L1708.7,1092 L1709.7,1091.8 L1710.7,1091.6 L1710.8,1091.6 L1711.7,1091.4 L1712.7,1091.2 L1712.9,1091.1 L1713.7,1091 L1714.7,1090.8 L1715.1,1090.7 L1715.7,1090.6 L1716.7,1090.5 L1717.3,1090.4 L1717.7,1090.3 L1718.7,1090.2 L1719.4,1090.1 L1719.7,1090 L1720.7,1089.9 L1721.6,1089.7 L1721.7,1089.7 L1722.7,1089.6 L1723.7,1089.5 L1723.8,1089.5 L1724.7,1089.9 L1725.7,1090.2 L1725.9,1090.3 L1726.7,1090.6 L1727.7,1090.9 L1728.1,1091 L1728.7,1091.2 L1729.7,1091.6 L1730.3,1091.8 L1730.7,1091.9 L1731.7,1092.2 L1732.4,1092.5 L1732.7,1092.5 L1733.7,1092.9 L1734.6,1093.1 L1734.7,1093.2 L1735.7,1093.5 L1736.7,1093.8 L1736.8,1093.8 L1737.7,1094.1 L1738.7,1094.4 L1738.9,1094.5 L1739.7,1094.7 L1740.7,1095 L1741.1,1095.1 L1741.7,1095.3 L1742.7,1095.6 L1743.3,1095.8 L1743.7,1095.9 L1744.7,1096.2 L1745.5,1096.4 L1745.7,1096.4 L1746.7,1096.7 L1747.6,1097 L1747.7,1097 L1748.7,1097.3 L1749.7,1097.5 L1749.8,1097.5 L1750.7,1097.8 L1751.7,1098 L1752,1098.1 L1752.7,1098.3 L1753.7,1098.6 L1754.1,1098.7 L1756.3,1099.2 L1758.5,1099.7 L1760.6,1100.2 L1762.8,1100.7 L1765,1101.2 L1767.1,1101.7 L1769.3,1102.2 L1771.5,1102.6 L1773.6,1103 L1775.8,1103.5 L1778,1103.9 L1780.1,1104.3 L1782.3,1104.7 L1784.5,1105 L1786.7,1105.4 L1788.8,1105.8 L1791,1106.1 L1793.2,1106.4 L1795.3,1106.8 L1797.5,1107.1 L1799.7,1107.4 L1801.8,1107.7 L1804,1107.9 L1806.2,1108.2 L1808.3,1108.5 L1810.5,1108.7 L1812.7,1109 L1814.8,1109.2 L1817,1109.4 L1819.2,1109.7 L1821.3,1109.9 L1823.5,1110.1 L1825.7,1110.3 L1827.8,1110.5 L1830,1110.7 L1832.2,1110.8 L1834.4,1111 L1836.5,1111.2 L1838.7,1111.3 L1840.9,1111.5 L1843,1111.6 L1845.2,1111.7 L1847.4,1111.9 L1849.5,1112 L1851.7,1112.1 L1853.9,1112.2 L1856,1112.4 L1858.2,1112.5 L1860.4,1112.6 L1862.5,1112.7 L1864.7,1112.8 L1866.9,1112.9 L1869,1112.9 L1871.2,1113 L1873.4,1113.1 L1875.6,1113.2 L1877.7,1113.3 L1879.9,1113.3 L1882.1,1113.4 L1884.2,1113.5 L1886.4,1113.6 L1888.6,1113.6 L1890.7,1113.7 L1892.9,1113.7 L1895.1,1113.8 L1897.2,1113.9 L1899.4,1113.9 L1901.6,1114 L1903.7,1114 L1905.9,1114.1 L1908.1,1114.2 L1910.2,1114.2 L1912.4,1114.3 L1914.6,1114.3 L1916.8,1114.4 L1918.9,1114.5 L1921.1,1114.5 L1923.3,1114.6 L1925.4,1114.7 L1927.6,1114.7 L1929.8,1114.8 L1931.9,1114.9 L1934.1,1115 L1936.3,1115 L1938.4,1115.1 L1940.6,1115.2 L1942.8,1115.3 L1944.9,1115.4 L1947.1,1115.5 L1949.3,1115.6 L1951.4,1115.7 L1953.6,1115.8 L1955.8,1115.9 L1957.9,1116 L1960.1,1116.2 L1962.3,1116.3 L1964.5,1116.4 L1966.6,1116.6 L1968.8,1116.7 L1971,1116.9 L1973.1,1117 L1975.3,1117.2 L1977.5,1117.3 L1979.6,1117.5 L1981.8,1117.7 L1984,1117.9 L1986.1,1118.1 L1988.3,1118.3 L1990.5,1118.5 L1992.6,1118.7 L1994.8,1119 L1997,1119.2 L1999.1,1119.5 L2001.3,1119.7 L2003.5,1120 L2005.7,1120.3 L2007.8,1120.5 L2010,1120.8 L2012.2,1121.1 L2014.3,1121.5 L2016.5,1121.8 L2018.7,1122.1 L2020.8,1122.5 L2023,1122.8"/>
<path stroke="#4ab540" stroke-width="6.8" d="M290.5,1295.2 L292.7,1295.4 L294.8,1295.7 L297,1295.9 L299.2,1296.1 L301.3,1296.3 L303.5,1296.5 L305.7,1296.7 L307.8,1296.9 L310,1297.1 L312.2,1297.3 L314.4,1297.5 L316.5,1297.7 L318.7,1297.9 L320.9,1298.1 L323,1298.3 L325.2,1298.5 L327.4,1298.7 L329.5,1298.9 L331.7,1299.1 L333.9,1299.2 L336,1299.4 L338.2,1299.6 L340.4,1299.8 L342.5,1300 L344.7,1300.1 L346.9,1300.3 L349,1300.5 L351.2,1300.6 L353.4,1300.8 L355.6,1301 L357.7,1301.1 L359.9,1301.3 L362.1,1301.5 L364.2,1301.6 L366.4,1301.8 L368.6,1301.9 L370.7,1302.1 L372.9,1302.2 L375.1,1302.4 L377.2,1302.5 L379.4,1302.7 L381.6,1302.8 L383.7,1302.9 L385.9,1303.1 L388.1,1303.2 L390.2,1303.3 L392.4,1303.5 L394.6,1303.6 L396.7,1303.7 L398.9,1303.9 L401.1,1304 L403.3,1304.1 L405.4,1304.2 L407.6,1304.3 L409.8,1304.4 L411.9,1304.5 L414.1,1304.7 L416.3,1304.8 L418.4,1304.9 L420.6,1305 L422.8,1305.1 L424.9,1305.2 L427.1,1305.2 L429.3,1305.3 L431.4,1305.4 L433.6,1305.5 L435.8,1305.6 L437.9,1305.7 L440.1,1305.8 L442.3,1305.8 L444.5,1305.9 L446.6,1306 L448.8,1306 L451,1306.1 L453.1,1306.2 L455.3,1306.2 L457.5,1306.3 L459.6,1306.3 L461.8,1306.4 L464,1306.4 L466.1,1306.5 L468.3,1306.5 L470.5,1306.5 L472.6,1306.6 L474.8,1306.6 L477,1306.6 L479.1,1306.6 L481.3,1306.6 L483.5,1306.6 L485.7,1306.7 L487.8,1306.7 L490,1306.6 L492.2,1306.6 L494.3,1306.6 L496.5,1306.6 L498.7,1306.6 L500.8,1306.5 L503,1306.5 L505.2,1306.4 L507.3,1306.4 L509.5,1306.3 L511.7,1306.2 L513.8,1306.2 L516,1306.1 L518.2,1305.9 L520.3,1305.8 L522.5,1305.7 L524.7,1305.6 L526.8,1305.4 L529,1305.2 L531.2,1305 L533.4,1304.8 L535.5,1304.6 L537.7,1304.3 L539.9,1304.1 L542,1303.8 L544.2,1303.4 L546.4,1303.1 L548.5,1302.7 L550.7,1302.3 L552.9,1301.9 L555,1301.4 L557.2,1300.9 L559.4,1300.4 L561.5,1299.8 L563.7,1299.2 L565.9,1298.6 L568,1297.9 L570.2,1297.1 L572.4,1296.4 L574.6,1295.5 L576.7,1294.6 L578.9,1293.7 L581.1,1292.7 L583.2,1291.7 L585.4,1290.6 L587.6,1289.4 L589.7,1288.2 L591.9,1286.9 L594.1,1285.6 L596.2,1284.2 L598.4,1282.8 L600.6,1281.3 L602.7,1279.7 L604.9,1278 L607.1,1276.4 L609.2,1274.6 L611.4,1272.8 L613.6,1270.9 L615.8,1269 L617.9,1267 L620.1,1265 L622.3,1262.9 L624.4,1260.8 L626.6,1258.7 L628.8,1256.5 L630.9,1254.2 L633.1,1252 L635.3,1249.7 L637.4,1247.4 L639.6,1245.1 L641.8,1242.7 L643.9,1240.4 L646.1,1238.1 L648.3,1235.7 L650.4,1233.4 L652.6,1231.1 L654.8,1228.8 L656.9,1226.5 L659.1,1224.3 L661.3,1222.1 L663.5,1220 L665.6,1217.9 L667.8,1215.9 L670,1213.9 L672.1,1212 L674.3,1210.2 L676.5,1208.5 L678.6,1206.8 L680.8,1205.2 L683,1203.7 L685.1,1202.3 L687.3,1201 L689.5,1199.8 L691.6,1198.6 L693.8,1197.6 L696,1196.6 L698.1,1195.7 L700.3,1194.9 L702.5,1194.2 L704.7,1193.6 L706.8,1193 L709,1192.5 L711.2,1192 L713.3,1191.6 L715.5,1191.2 L717.7,1190.9 L719.8,1190.6 L722,1190.3 L724.2,1190.1 L726.3,1189.9 L728.5,1189.6 L730.7,1189.4 L732.8,1189.2 L735,1189 L737.2,1188.8 L739.3,1188.6 L741.5,1188.4 L743.7,1188.2 L745.9,1188 L748,1187.7 L750.2,1187.5 L752.4,1187.3 L754.5,1187 L756.7,1186.8 L758.9,1186.6 L761,1186.4 L763.2,1186.2 L765.4,1186 L767.5,1185.9 L769.7,1185.8 L771.9,1185.8 L774,1185.9 L776.2,1186 L778.4,1186.1 L780.5,1186.4 L782.7,1186.7 L784.9,1187.2 L787,1187.7 L789.2,1188.3 L791.4,1189 L793.6,1189.8 L795.7,1190.8 L797.9,1191.8 L800.1,1192.9 L802.2,1194.1 L804.4,1195.4 L806.6,1196.7 L808.7,1198.1 L810.9,1199.6 L813.1,1201.2 L815.2,1202.8 L817.4,1204.4 L819.6,1206.1 L821.7,1207.8 L823.9,1209.5 L826.1,1211.3 L828.2,1213 L830.4,1214.7 L832.6,1216.4 L834.8,1218.1 L836.9,1219.8 L839.1,1221.5 L841.3,1223.1 L843.4,1224.7 L845.6,1226.2 L847.8,1227.7 L849.9,1229.1 L852.1,1230.5 L854.3,1231.9 L856.4,1233.2 L858.6,1234.4 L860.8,1235.6 L862.9,1236.7 L865.1,1237.8 L867.3,1238.8 L869.4,1239.7 L871.6,1240.6 L873.8,1241.4 L876,1242.1 L878.1,1242.8 L880.3,1243.4 L882.5,1243.9 L884.6,1244.4 L886.8,1244.8 L889,1245.2 L891.1,1245.4 L893.3,1245.6 L895.5,1245.8 L897.6,1245.8 L899.8,1245.8 L902,1245.7 L904.1,1245.6 L906.3,1245.4 L908.5,1245.1 L910.6,1244.7 L912.8,1244.2 L915,1243.7 L917.1,1243.1 L919.3,1242.4 L921.5,1241.6 L923.7,1240.8 L925.8,1239.8 L928,1238.8 L930.2,1237.7 L932.3,1236.5 L934.5,1235.2 L936.7,1233.8 L938.8,1232.3 L941,1230.8 L943.2,1229.1 L945.3,1227.3 L947.5,1225.4 L949.7,1223.4 L951.8,1221.4 L954,1219.2 L956.2,1216.8 L958.3,1214.4 L960.5,1211.9 L962.7,1209.2 L964.9,1206.5 L967,1203.6 L969.2,1200.6 L971.4,1197.5 L973.5,1194.3 L975.7,1191 L977.9,1187.6 L980,1184.1 L982.2,1180.5 L984.4,1176.7 L986.5,1172.9 L988.7,1169 L990.9,1165 L993,1160.9 L995.2,1156.7 L997.4,1152.4 L999.5,1148 L1001.7,1143.5 L1003.9,1138.8 L1006.1,1134 L1008.2,1129 L1010.4,1123.9 L1012.6,1118.5 L1014.7,1113 L1016.9,1107.2 L1019.1,1101.1 L1021.2,1094.8 L1023.4,1088.3 L1025.6,1081.4 L1027.7,1074.2 L1029.9,1066.7 L1032.1,1058.9 L1034.2,1050.8 L1036.4,1042.4 L1038.6,1033.7 L1040,1027.8 L1040.5,1025.7 L1040.7,1024.7 L1041,1023.6 L1041.5,1021.5 L1042,1019.4 L1042.5,1017.2 L1042.9,1015.5 L1043,1015.1 L1043.5,1012.9 L1044,1010.7 L1044.5,1008.5 L1045,1006.3 L1045.1,1006 L1045.5,1004.1 L1046,1001.9 L1046.5,999.6 L1047,997.4 L1047.2,996.2 L1047.5,995.1 L1048,992.8 L1048.5,990.5 L1049,988.2 L1049.4,986.3 L1049.5,986 L1050,983.6 L1050.5,981.3 L1051,979 L1051.5,976.7 L1051.6,976.3 L1052,974.4 L1052.5,972 L1053,969.7 L1053.5,967.3 L1053.8,966.1 L1054,965 L1054.5,962.6 L1055,960.3 L1055.5,957.9 L1055.9,955.9 L1056,955.6 L1056.5,953.2 L1057,950.9 L1057.5,948.5 L1058,946.2 L1058.1,945.7 L1058.5,943.8 L1059,941.5 L1059.5,939.1 L1060,936.8 L1060.3,935.6 L1060.5,934.5 L1061,932.1 L1061.5,929.8 L1062,927.5 L1062.4,925.6 L1062.5,925.2 L1063,922.9 L1063.5,920.7 L1064,918.4 L1064.5,916.1 L1064.6,915.7 L1065,913.9 L1065.5,911.7 L1066,909.4 L1066.5,907.2 L1066.8,906.1 L1067,905 L1067.5,902.9 L1068,900.7 L1068.5,898.6 L1068.9,896.8 L1069,896.5 L1069.5,894.4 L1070,892.3 L1070.5,890.2 L1071,888.2 L1071.1,887.8 L1071.5,886.2 L1072,884.2 L1072.5,882.3 L1073,880.3 L1073.3,879.3 L1073.5,878.4 L1074,876.5 L1074.5,874.7 L1075,872.9 L1075.4,871.3 L1075.5,871.1 L1076,869.3 L1076.5,867.6 L1077,865.9 L1077.5,864.2 L1077.6,863.8 L1078,862.5 L1078.5,860.9 L1079,859.4 L1079.5,857.8 L1079.8,857 L1080,856.3 L1080.5,854.9 L1081,853.4 L1081.5,852 L1081.9,850.8 L1082,850.7 L1082.5,849.4 L1083,848.1 L1083.5,846.9 L1084,845.7 L1084.1,845.4 L1084.5,844.5 L1085,843.4 L1085.5,842.3 L1086,841.3 L1086.3,840.7 L1086.5,840.3 L1087,839.3 L1087.5,838.4 L1088,837.6 L1088.4,836.9 L1088.5,836.8 L1089,836 L1089.5,835.3 L1090,834.6 L1090.5,834 L1090.6,833.8 L1091,833.4 L1091.5,832.8 L1092,832.3 L1092.5,831.9 L1092.8,831.6 L1093,831.5 L1093.5,831.1 L1094,830.8 L1094.5,830.5 L1095,830.3 L1095,830.3 L1095.5,830.1 L1096,830 L1096.5,829.9 L1097,829.9 L1097.1,829.9 L1097.5,829.9 L1098,830 L1098.5,830.1 L1099,830.2 L1099.3,830.3 L1099.5,830.4 L1100,830.7 L1100.5,831 L1101,831.3 L1101.5,831.7 L1101.5,831.7 L1102,832.1 L1102.5,832.6 L1103,833.1 L1103.5,833.7 L1103.6,833.8 L1104,834.3 L1104.5,834.9 L1105,835.6 L1105.5,836.4 L1105.8,836.8 L1106,837.1 L1106.5,838 L1107,838.9 L1107.5,839.9 L1108,840.8 L1108,840.9 L1108.5,842 L1109,843.1 L1109.5,844.3 L1110,845.5 L1110.1,845.8 L1110.5,846.8 L1111,848.1 L1111.5,849.5 L1112,850.9 L1112.3,851.8 L1112.5,852.4 L1113,853.9 L1113.5,855.5 L1114,857.2 L1114.5,858.7 L1114.5,858.8 L1115,860.5 L1115.5,862.3 L1116,864.1 L1116.5,865.9 L1116.6,866.4 L1117,867.8 L1117.5,869.7 L1118,871.7 L1118.5,873.7 L1118.8,874.9 L1119,875.7 L1119.5,877.8 L1120,879.9 L1120.5,882.1 L1121,884.1 L1121,884.2 L1121.5,886.4 L1122,888.7 L1122.5,890.9 L1123,893.2 L1123.1,893.9 L1123.5,895.5 L1124,897.9 L1124.5,900.3 L1125,902.7 L1125.3,904.1 L1125.5,905.1 L1126,907.5 L1126.5,910 L1127,912.5 L1127.5,914.8 L1127.5,915 L1128,917.5 L1128.5,920 L1129,922.6 L1129.5,925.1 L1129.6,925.9 L1130,927.7 L1130.5,930.3 L1131,932.9 L1131.5,935.5 L1131.8,937.2 L1132,938.2 L1132.5,940.8 L1133,943.4 L1133.5,946.1 L1134,948.7 L1134,948.7 L1134.5,951.4 L1135,954.1 L1135.5,956.8 L1136,959.4 L1136.2,960.2 L1136.5,962.1 L1137,964.8 L1137.5,967.5 L1138,970.1 L1138.3,971.9 L1138.5,972.8 L1139,975.5 L1139.5,978.2 L1140,980.9 L1140.5,983.5 L1140.5,983.5 L1141,986.2 L1141.5,988.8 L1142,991.5 L1142.5,994.1 L1142.7,995 L1143,996.8 L1143.5,999.4 L1144,1002.1 L1144.5,1004.7 L1144.8,1006.4 L1145,1007.3 L1145.5,1009.9 L1146,1012.5 L1146.5,1015.1 L1147,1017.6 L1147,1017.6 L1147.5,1020.2 L1148,1022.7 L1148.5,1025.3 L1149,1027.8 L1149.2,1028.6 L1149.5,1030.3 L1150,1032.8 L1151.3,1039.4 L1153.5,1049.9 L1155.7,1060.1 L1157.8,1070.1 L1160,1079.7 L1162.2,1089 L1164.3,1098 L1166.5,1106.7 L1168.7,1115 L1170.8,1123.1 L1173,1130.8 L1175.2,1138.2 L1177.3,1145.4 L1179.5,1152.2 L1181.7,1158.8 L1183.9,1165.1 L1186,1171.2 L1188.2,1177 L1190.4,1182.6 L1192.5,1187.9 L1194.7,1193 L1196.9,1197.9 L1199,1202.6 L1201.2,1207.1 L1203.4,1211.4 L1205.5,1215.5 L1207.7,1219.5 L1209.9,1223.3 L1212,1226.9 L1214.2,1230.3 L1216.4,1233.7 L1218.5,1236.8 L1220.7,1239.9 L1222.9,1242.8 L1225.1,1245.5 L1227.2,1248.2 L1229.4,1250.7 L1231.6,1253.2 L1233.7,1255.5 L1235.9,1257.7 L1238.1,1259.8 L1240.2,1261.9 L1242.4,1263.8 L1244.6,1265.7 L1246.7,1267.5 L1248.9,1269.2 L1251.1,1270.8 L1253.2,1272.4 L1255.4,1273.9 L1257.6,1275.3 L1259.7,1276.7 L1261.9,1278 L1264.1,1279.3 L1266.3,1280.5 L1268.4,1281.7 L1270.6,1282.8 L1272.8,1283.9 L1274.9,1284.9 L1277.1,1285.9 L1279.3,1286.9 L1281.4,1287.9 L1283.6,1288.8 L1285.8,1289.6 L1287.9,1290.5 L1290.1,1291.3 L1292.3,1292.1 L1294.4,1292.9 L1296.6,1293.6 L1298.8,1294.3 L1300.9,1295 L1303.1,1295.7 L1305.3,1296.4 L1307.4,1297 L1309.6,1297.6 L1311.8,1298.3 L1314,1298.9 L1316.1,1299.4 L1318.3,1300 L1320.5,1300.6 L1322.6,1301.1 L1324.8,1301.6 L1327,1302.1 L1329.1,1302.7 L1331.3,1303.1 L1333.5,1303.6 L1335.6,1304.1 L1337.8,1304.6 L1340,1305 L1342.1,1305.5 L1344.3,1305.9 L1346.5,1306.3 L1348.6,1306.8 L1350.8,1307.2 L1353,1307.6 L1355.2,1308 L1357.3,1308.4 L1359.5,1308.8 L1361.7,1309.1 L1363.8,1309.5 L1366,1309.9 L1368.2,1310.2 L1370.3,1310.6 L1372.5,1310.9 L1374.7,1311.3 L1376.8,1311.6 L1379,1311.9 L1381.2,1312.3 L1383.3,1312.6 L1385.5,1312.9 L1387.7,1313.2 L1389.8,1313.5 L1392,1313.8 L1394.2,1314.1 L1396.4,1314.4 L1398.5,1314.7 L1400.7,1315 L1402.9,1315.3 L1405,1315.6 L1407.2,1315.9 L1409.4,1316.1 L1411.5,1316.4 L1413.7,1316.7 L1415.9,1316.9 L1418,1317.2 L1420.2,1317.5 L1422.4,1317.7 L1424.5,1318 L1426.7,1318.2 L1428.9,1318.5 L1431,1318.7 L1433.2,1318.9 L1435.4,1319.2 L1437.5,1319.4 L1439.7,1319.6 L1441.9,1319.9 L1444.1,1320.1 L1446.2,1320.3 L1448.4,1320.5 L1450.6,1320.8 L1452.7,1321 L1454.9,1321.2 L1457.1,1321.4 L1459.2,1321.6 L1461.4,1321.8 L1463.6,1322 L1465.7,1322.2 L1467.9,1322.4 L1470.1,1322.6 L1472.2,1322.8 L1474.4,1323.1 L1476.6,1323.3 L1478.7,1323.5 L1480.9,1323.7 L1483.1,1323.9 L1485.3,1324.2 L1487.4,1324.4 L1489.6,1324.6 L1491.8,1324.9 L1493.9,1325.1 L1496.1,1325.3 L1498.3,1325.6 L1500.4,1325.8 L1502.6,1326 L1504.8,1326.3 L1506.9,1326.5 L1509.1,1326.8 L1511.3,1327 L1513.4,1327.2 L1515.6,1327.4 L1517.8,1327.6 L1519.9,1327.9 L1522.1,1328.1 L1524.3,1328.3 L1526.5,1328.4 L1528.6,1328.6 L1530.8,1328.8 L1533,1328.9 L1535.1,1329.1 L1537.3,1329.2 L1539.5,1329.3 L1541.6,1329.4 L1543.8,1329.5 L1546,1329.6 L1548.1,1329.6 L1550.3,1329.7 L1552.5,1329.8 L1554.6,1329.8 L1556.8,1329.9 L1559,1329.9 L1561.1,1329.9 L1563.3,1329.9 L1565.5,1329.9 L1567.6,1329.9 L1569.8,1329.9 L1572,1329.8 L1574.2,1329.8 L1576.3,1329.7 L1578.5,1329.6 L1580.7,1329.6 L1582.8,1329.5 L1585,1329.3 L1587.2,1329.2 L1589.3,1329.1 L1591.5,1328.9 L1593.7,1328.8 L1595.8,1328.6 L1598,1328.4 L1600.2,1328.2 L1602.3,1328 L1604.5,1327.8 L1606.7,1327.5 L1608.8,1327.3 L1611,1327 L1613.2,1326.7 L1615.4,1326.4 L1617.5,1326.1 L1619.7,1325.8 L1621.9,1325.5 L1624,1325.2 L1626.2,1324.8 L1628.4,1324.5 L1630.5,1324.1 L1632.7,1323.7 L1634.9,1323.3 L1637,1322.9 L1639.2,1322.5 L1641.4,1322.1 L1643.5,1321.7 L1645.7,1321.3 L1647.9,1320.8 L1650,1320.4 L1652.2,1319.9 L1654.4,1319.5 L1656.6,1319 L1658.7,1318.5 L1660.9,1318.1 L1663.1,1317.6 L1665.2,1317.1 L1667.4,1316.6 L1669.6,1316.1 L1671.7,1315.6 L1673.9,1315.1 L1676.1,1314.6 L1678.2,1314.1 L1680.4,1313.6 L1682.6,1313.1 L1684.7,1312.6 L1686.9,1312.1 L1689.1,1311.7 L1691.2,1311.2 L1693.4,1310.7 L1695.6,1310.3 L1697.7,1309.9 L1699.9,1309.4 L1702.1,1309 L1703.7,1308.7 L1704.3,1308.6 L1704.7,1308.6 L1705.7,1308.4 L1706.4,1308.3 L1706.7,1308.2 L1707.7,1308 L1708.6,1307.9 L1708.7,1307.9 L1709.7,1307.7 L1710.7,1307.6 L1710.8,1307.6 L1711.7,1307.4 L1712.7,1307.3 L1712.9,1307.3 L1713.7,1307.1 L1714.7,1307 L1715.1,1307 L1715.7,1306.9 L1716.7,1306.8 L1717.3,1306.7 L1717.7,1306.6 L1718.7,1306.5 L1719.4,1306.4 L1719.7,1306.4 L1720.7,1306.3 L1721.6,1306.2 L1721.7,1306.2 L1722.7,1306.1 L1723.7,1306 L1723.8,1306 L1724.7,1305.9 L1725.7,1305.9 L1725.9,1305.8 L1726.7,1305.8 L1727.7,1305.7 L1728.1,1305.7 L1728.7,1305.7 L1729.7,1305.6 L1730.3,1305.6 L1730.7,1305.6 L1731.7,1305.5 L1732.4,1305.5 L1732.7,1305.5 L1733.7,1305.5 L1734.6,1305.8 L1734.7,1305.8 L1735.7,1306.1 L1736.7,1306.4 L1736.8,1306.5 L1737.7,1306.7 L1738.7,1307 L1738.9,1307.1 L1739.7,1307.3 L1740.7,1307.6 L1741.1,1307.7 L1741.7,1307.9 L1742.7,1308.2 L1743.3,1308.4 L1743.7,1308.5 L1744.7,1308.8 L1745.5,1309 L1745.7,1309 L1746.7,1309.3 L1747.6,1309.6 L1747.7,1309.6 L1748.7,1309.9 L1749.7,1310.1 L1749.8,1310.2 L1750.7,1310.4 L1751.7,1310.7 L1752,1310.7 L1752.7,1310.9 L1753.7,1311.2 L1754.1,1311.3 L1754.7,1311.5 L1755.7,1311.7 L1756.3,1311.9 L1756.7,1312 L1757.7,1312.2 L1758.5,1312.4 L1758.7,1312.5 L1759.7,1312.7 L1760.6,1312.9 L1760.7,1312.9 L1761.7,1313.2 L1762.7,1313.4 L1762.8,1313.4 L1763.7,1313.7 L1765,1314 L1767.1,1314.4 L1769.3,1314.9 L1771.5,1315.4 L1773.6,1315.9 L1775.8,1316.3 L1778,1316.8 L1780.1,1317.2 L1782.3,1317.6 L1784.5,1318 L1786.7,1318.4 L1788.8,1318.8 L1791,1319.2 L1793.2,1319.6 L1795.3,1319.9 L1797.5,1320.3 L1799.7,1320.6 L1801.8,1321 L1804,1321.3 L1806.2,1321.6 L1808.3,1321.9 L1810.5,1322.2 L1812.7,1322.5 L1814.8,1322.8 L1817,1323.1 L1819.2,1323.4 L1821.3,1323.6 L1823.5,1323.9 L1825.7,1324.2 L1827.8,1324.4 L1830,1324.6 L1832.2,1324.9 L1834.4,1325.1 L1836.5,1325.3 L1838.7,1325.5 L1840.9,1325.7 L1843,1325.9 L1845.2,1326.1 L1847.4,1326.3 L1849.5,1326.5 L1851.7,1326.7 L1853.9,1326.9 L1856,1327 L1858.2,1327.2 L1860.4,1327.4 L1862.5,1327.5 L1864.7,1327.7 L1866.9,1327.8 L1869,1328 L1871.2,1328.1 L1873.4,1328.2 L1875.6,1328.4 L1877.7,1328.5 L1879.9,1328.6 L1882.1,1328.7 L1884.2,1328.9 L1886.4,1329 L1888.6,1329.1 L1890.7,1329.2 L1892.9,1329.3 L1895.1,1329.4 L1897.2,1329.5 L1899.4,1329.6 L1901.6,1329.8 L1903.7,1329.9 L1905.9,1330 L1908.1,1330.1 L1910.2,1330.2 L1912.4,1330.2 L1914.6,1330.3 L1916.8,1330.4 L1918.9,1330.5 L1921.1,1330.6 L1923.3,1330.7 L1925.4,1330.8 L1927.6,1330.9 L1929.8,1331 L1931.9,1331.1 L1934.1,1331.2 L1936.3,1331.3 L1938.4,1331.4 L1940.6,1331.5 L1942.8,1331.6 L1944.9,1331.7 L1947.1,1331.8 L1949.3,1331.9 L1951.4,1332 L1953.6,1332.1 L1955.8,1332.3 L1957.9,1332.4 L1960.1,1332.5 L1962.3,1332.6 L1964.5,1332.7 L1966.6,1332.9 L1968.8,1333 L1971,1333.1 L1973.1,1333.3 L1975.3,1333.4 L1977.5,1333.5 L1979.6,1333.7 L1981.8,1333.8 L1984,1334 L1986.1,1334.1 L1988.3,1334.3 L1990.5,1334.5 L1992.6,1334.7 L1994.8,1334.8 L1997,1335 L1999.1,1335.2 L2001.3,1335.4 L2003.5,1335.6 L2005.7,1335.8 L2007.8,1336 L2010,1336.2 L2012.2,1336.5 L2014.3,1336.7 L2016.5,1336.9 L2018.7,1337.2 L2020.8,1337.4 L2023,1337.7"/>
<path stroke="#1d5a1a" stroke-width="6.6" d="M290.5,1466.1 L292.7,1466.2 L294.8,1466.2 L297,1466.3 L299.2,1466.4 L301.3,1466.4 L303.5,1466.5 L305.7,1466.5 L307.8,1466.6 L310,1466.6 L312.2,1466.7 L314.4,1466.7 L316.5,1466.8 L318.7,1466.8 L320.9,1466.9 L323,1466.9 L325.2,1467 L327.4,1467 L329.5,1467.1 L331.7,1467.1 L333.9,1467.2 L336,1467.2 L338.2,1467.3 L340.4,1467.3 L342.5,1467.4 L344.7,1467.4 L346.9,1467.5 L349,1467.5 L351.2,1467.5 L353.4,1467.6 L355.6,1467.6 L357.7,1467.7 L359.9,1467.7 L362.1,1467.8 L364.2,1467.8 L366.4,1467.8 L368.6,1467.9 L370.7,1467.9 L372.9,1467.9 L375.1,1468 L377.2,1468 L379.4,1468.1 L381.6,1468.1 L383.7,1468.1 L385.9,1468.2 L388.1,1468.2 L390.2,1468.2 L392.4,1468.2 L394.6,1468.3 L396.7,1468.3 L398.9,1468.3 L401.1,1468.4 L403.3,1468.4 L405.4,1468.4 L407.6,1468.4 L409.8,1468.5 L411.9,1468.5 L414.1,1468.5 L416.3,1468.5 L418.4,1468.6 L420.6,1468.6 L422.8,1468.6 L424.9,1468.6 L427.1,1468.6 L429.3,1468.6 L431.4,1468.7 L433.6,1468.7 L435.8,1468.7 L437.9,1468.7 L440.1,1468.7 L442.3,1468.7 L444.5,1468.7 L446.6,1468.7 L448.8,1468.7 L451,1468.7 L453.1,1468.7 L455.3,1468.7 L457.5,1468.7 L459.6,1468.7 L461.8,1468.7 L464,1468.7 L466.1,1468.7 L468.3,1468.7 L470.5,1468.6 L472.6,1468.6 L474.8,1468.6 L477,1468.6 L479.1,1468.5 L481.3,1468.5 L483.5,1468.4 L485.7,1468.4 L487.8,1468.4 L490,1468.3 L492.2,1468.2 L494.3,1468.2 L496.5,1468.1 L498.7,1468 L500.8,1467.9 L503,1467.8 L505.2,1467.7 L507.3,1467.6 L509.5,1467.5 L511.7,1467.4 L513.8,1467.2 L516,1467.1 L518.2,1466.9 L520.3,1466.7 L522.5,1466.5 L524.7,1466.3 L526.8,1466.1 L529,1465.9 L531.2,1465.6 L533.4,1465.3 L535.5,1465 L537.7,1464.7 L539.9,1464.4 L542,1464 L544.2,1463.6 L546.4,1463.2 L548.5,1462.8 L550.7,1462.3 L552.9,1461.8 L555,1461.2 L557.2,1460.7 L559.4,1460.1 L561.5,1459.4 L563.7,1458.7 L565.9,1458 L568,1457.3 L570.2,1456.5 L572.4,1455.6 L574.6,1454.8 L576.7,1453.8 L578.9,1452.9 L581.1,1451.9 L583.2,1450.8 L585.4,1449.7 L587.6,1448.5 L589.7,1447.3 L591.9,1446 L594.1,1444.7 L596.2,1443.4 L598.4,1442 L600.6,1440.5 L602.7,1439 L604.9,1437.5 L607.1,1435.9 L609.2,1434.2 L611.4,1432.5 L613.6,1430.8 L615.8,1429 L617.9,1427.2 L620.1,1425.3 L622.3,1423.4 L624.4,1421.5 L626.6,1419.5 L628.8,1417.5 L630.9,1415.5 L633.1,1413.5 L635.3,1411.4 L637.4,1409.3 L639.6,1407.3 L641.8,1405.2 L643.9,1403.1 L646.1,1400.9 L648.3,1398.8 L650.4,1396.7 L652.6,1394.7 L654.8,1392.6 L656.9,1390.5 L659.1,1388.5 L661.3,1386.5 L663.5,1384.5 L665.6,1382.6 L667.8,1380.7 L670,1378.8 L672.1,1377 L674.3,1375.2 L676.5,1373.5 L678.6,1371.8 L680.8,1370.2 L683,1368.7 L685.1,1367.2 L687.3,1365.8 L689.5,1364.4 L691.6,1363.1 L693.8,1361.9 L696,1360.8 L698.1,1359.7 L700.3,1358.7 L702.5,1357.7 L704.7,1356.8 L706.8,1356 L709,1355.3 L711.2,1354.6 L713.3,1353.9 L715.5,1353.3 L717.7,1352.8 L719.8,1352.3 L722,1351.9 L724.2,1351.5 L726.3,1351.1 L728.5,1350.8 L730.7,1350.4 L732.8,1350.2 L735,1349.9 L737.2,1349.7 L739.3,1349.5 L741.5,1349.3 L743.7,1349.1 L745.9,1349 L748,1348.8 L750.2,1348.7 L752.4,1348.6 L754.5,1348.4 L756.7,1348.3 L758.9,1348.3 L761,1348.2 L763.2,1348.1 L765.4,1348.1 L767.5,1348.1 L769.7,1348.2 L771.9,1348.2 L774,1348.3 L776.2,1348.5 L778.4,1348.7 L780.5,1349 L782.7,1349.3 L784.9,1349.7 L787,1350.2 L789.2,1350.8 L791.4,1351.4 L793.6,1352.1 L795.7,1352.9 L797.9,1353.8 L800.1,1354.8 L802.2,1355.9 L804.4,1357 L806.6,1358.2 L808.7,1359.5 L810.9,1360.8 L813.1,1362.3 L815.2,1363.7 L817.4,1365.2 L819.6,1366.8 L821.7,1368.4 L823.9,1370 L826.1,1371.6 L828.2,1373.2 L830.4,1374.9 L832.6,1376.5 L834.8,1378.1 L836.9,1379.7 L839.1,1381.2 L841.3,1382.8 L843.4,1384.3 L845.6,1385.7 L847.8,1387.1 L849.9,1388.5 L852.1,1389.8 L854.3,1391.1 L856.4,1392.3 L858.6,1393.4 L860.8,1394.5 L862.9,1395.5 L865.1,1396.4 L867.3,1397.3 L869.4,1398.1 L871.6,1398.9 L873.8,1399.6 L876,1400.2 L878.1,1400.7 L880.3,1401.2 L882.5,1401.6 L884.6,1402 L886.8,1402.2 L889,1402.4 L891.1,1402.6 L893.3,1402.6 L895.5,1402.6 L897.6,1402.5 L899.8,1402.4 L902,1402.1 L904.1,1401.8 L906.3,1401.4 L908.5,1401 L910.6,1400.5 L912.8,1399.9 L915,1399.2 L917.1,1398.5 L919.3,1397.6 L921.5,1396.7 L923.7,1395.8 L925.8,1394.7 L928,1393.6 L930.2,1392.4 L932.3,1391.1 L934.5,1389.7 L936.7,1388.2 L938.8,1386.6 L941,1385 L943.2,1383.2 L945.3,1381.4 L947.5,1379.5 L949.7,1377.5 L951.8,1375.3 L954,1373.1 L956.2,1370.7 L958.3,1368.3 L960.5,1365.7 L962.7,1363.1 L964.9,1360.3 L967,1357.4 L969.2,1354.4 L971.4,1351.2 L973.5,1347.9 L975.7,1344.5 L977.9,1341 L980,1337.3 L982.2,1333.5 L984.4,1329.6 L986.5,1325.5 L988.7,1321.3 L990.9,1316.9 L993,1312.4 L995.2,1307.7 L997.4,1302.9 L999.5,1298 L1001.7,1292.8 L1003.9,1287.6 L1006.1,1282.1 L1008.2,1276.5 L1010.4,1270.8 L1012.6,1264.9 L1014.7,1258.8 L1016.9,1252.6 L1019.1,1246.3 L1021.2,1239.8 L1023.4,1233.2 L1025.6,1226.4 L1027.7,1219.5 L1029.9,1212.5 L1032.1,1205.3 L1034.2,1198.1 L1036.4,1190.8 L1038.6,1183.4 L1040,1178.6 L1040.5,1176.9 L1040.7,1176 L1041,1175.1 L1041.5,1173.4 L1042,1171.7 L1042.5,1170 L1042.9,1168.6 L1043,1168.3 L1043.5,1166.6 L1044,1164.9 L1044.5,1163.1 L1045,1161.4 L1045.1,1161.1 L1045.5,1159.7 L1046,1158 L1046.5,1156.3 L1047,1154.6 L1047.2,1153.7 L1047.5,1152.9 L1048,1151.2 L1048.5,1149.5 L1049,1147.8 L1049.4,1146.4 L1049.5,1146.1 L1050,1144.4 L1050.5,1142.7 L1051,1141 L1051.5,1139.4 L1051.6,1139.1 L1052,1137.7 L1052.5,1136 L1053,1134.4 L1053.5,1132.7 L1053.8,1131.9 L1054,1131.1 L1054.5,1129.5 L1055,1127.8 L1055.5,1126.2 L1055.9,1124.9 L1056,1124.6 L1056.5,1123 L1057,1121.4 L1057.5,1119.9 L1058,1118.3 L1058.1,1118 L1058.5,1116.7 L1059,1115.2 L1059.5,1113.6 L1060,1112.1 L1060.3,1111.3 L1060.5,1110.6 L1061,1109.1 L1061.5,1107.6 L1062,1106.2 L1062.4,1104.9 L1062.5,1104.7 L1063,1103.3 L1063.5,1101.8 L1064,1100.4 L1064.5,1099 L1064.6,1098.8 L1065,1097.7 L1065.5,1096.3 L1066,1095 L1066.5,1093.6 L1066.8,1092.9 L1067,1092.3 L1067.5,1091 L1068,1089.8 L1068.5,1088.5 L1068.9,1087.4 L1069,1087.3 L1069.5,1086.1 L1070,1084.9 L1070.5,1083.7 L1071,1082.5 L1071.1,1082.3 L1071.5,1081.4 L1072,1080.3 L1072.5,1079.2 L1073,1078.2 L1073.3,1077.6 L1073.5,1077.1 L1074,1076.1 L1074.5,1075.1 L1075,1074.1 L1075.4,1073.3 L1075.5,1073.2 L1076,1072.3 L1076.5,1071.4 L1077,1070.5 L1077.5,1069.7 L1077.6,1069.5 L1078,1068.9 L1078.5,1068.1 L1079,1067.3 L1079.5,1066.6 L1079.8,1066.2 L1080,1065.8 L1080.5,1065.2 L1081,1064.5 L1081.5,1063.9 L1081.9,1063.3 L1082,1063.3 L1082.5,1062.7 L1083,1062.2 L1083.5,1061.7 L1084,1061.2 L1084.1,1061.1 L1084.5,1060.7 L1085,1060.3 L1085.5,1059.9 L1086,1059.5 L1086.3,1059.3 L1086.5,1059.2 L1087,1058.9 L1087.5,1058.6 L1088,1058.4 L1088.4,1058.2 L1088.5,1058.2 L1089,1058 L1089.5,1057.8 L1090,1057.7 L1090.5,1057.6 L1090.6,1057.6 L1091,1057.5 L1091.5,1057.5 L1092,1057.5 L1092.5,1057.6 L1092.8,1057.6 L1093,1057.6 L1093.5,1057.7 L1094,1057.9 L1094.5,1058 L1095,1058.2 L1095,1058.2 L1095.5,1058.4 L1096,1058.7 L1096.5,1059 L1097,1059.3 L1097.1,1059.4 L1097.5,1059.6 L1098,1060 L1098.5,1060.4 L1099,1060.9 L1099.3,1061.2 L1099.5,1061.5 L1100,1062 L1100.5,1062.7 L1101,1063.3 L1101.5,1064 L1101.5,1064.1 L1102,1064.8 L1102.5,1065.6 L1103,1066.5 L1103.5,1067.4 L1103.6,1067.6 L1104,1068.4 L1104.5,1069.4 L1105,1070.4 L1105.5,1071.5 L1105.8,1072.2 L1106,1072.6 L1106.5,1073.8 L1107,1075 L1107.5,1076.3 L1108,1077.5 L1108,1077.6 L1108.5,1078.9 L1109,1080.3 L1109.5,1081.7 L1110,1083.2 L1110.1,1083.6 L1110.5,1084.7 L1111,1086.2 L1111.5,1087.8 L1112,1089.4 L1112.3,1090.4 L1112.5,1091 L1113,1092.7 L1113.5,1094.4 L1114,1096.2 L1114.5,1097.8 L1114.5,1097.9 L1115,1099.7 L1115.5,1101.6 L1116,1103.4 L1116.5,1105.3 L1116.6,1105.8 L1117,1107.2 L1117.5,1109.2 L1118,1111.2 L1118.5,1113.2 L1118.8,1114.4 L1119,1115.2 L1119.5,1117.2 L1120,1119.3 L1120.5,1121.4 L1121,1123.4 L1121,1123.5 L1121.5,1125.6 L1122,1127.7 L1122.5,1129.9 L1123,1132.1 L1123.1,1132.7 L1123.5,1134.3 L1124,1136.5 L1124.5,1138.7 L1125,1140.9 L1125.3,1142.3 L1125.5,1143.2 L1126,1145.4 L1126.5,1147.7 L1127,1150 L1127.5,1152.2 L1127.5,1152.3 L1128,1154.6 L1128.5,1156.9 L1129,1159.2 L1129.5,1161.5 L1129.6,1162.2 L1130,1163.8 L1130.5,1166.1 L1131,1168.5 L1131.5,1170.8 L1131.8,1172.3 L1132,1173.1 L1132.5,1175.5 L1133,1177.8 L1133.5,1180.1 L1134,1182.4 L1134,1182.5 L1134.5,1184.8 L1135,1187.1 L1135.5,1189.5 L1136,1191.8 L1136.2,1192.5 L1136.5,1194.1 L1137,1196.4 L1137.5,1198.7 L1138,1201 L1138.3,1202.5 L1138.5,1203.4 L1139,1205.6 L1139.5,1207.9 L1140,1210.2 L1140.5,1212.4 L1140.5,1212.5 L1141,1214.8 L1141.5,1217 L1142,1219.3 L1142.5,1221.5 L1142.7,1222.2 L1143,1223.7 L1143.5,1226 L1144,1228.2 L1144.5,1230.4 L1144.8,1231.8 L1145,1232.6 L1145.5,1234.7 L1146,1236.9 L1146.5,1239 L1147,1241.1 L1147,1241.2 L1147.5,1243.3 L1148,1245.4 L1148.5,1247.5 L1149,1249.6 L1149.2,1250.3 L1149.5,1251.7 L1150,1253.7 L1151.3,1259.1 L1153.5,1267.7 L1155.7,1276 L1157.8,1284.1 L1160,1291.8 L1162.2,1299.2 L1164.3,1306.4 L1166.5,1313.2 L1168.7,1319.8 L1170.8,1326 L1173,1332 L1175.2,1337.8 L1177.3,1343.3 L1179.5,1348.5 L1181.7,1353.5 L1183.9,1358.3 L1186,1362.9 L1188.2,1367.3 L1190.4,1371.4 L1192.5,1375.4 L1194.7,1379.2 L1196.9,1382.9 L1199,1386.4 L1201.2,1389.7 L1203.4,1392.9 L1205.5,1396 L1207.7,1398.9 L1209.9,1401.7 L1212,1404.4 L1214.2,1407 L1216.4,1409.5 L1218.5,1411.9 L1220.7,1414.2 L1222.9,1416.4 L1225.1,1418.5 L1227.2,1420.5 L1229.4,1422.4 L1231.6,1424.3 L1233.7,1426.1 L1235.9,1427.9 L1238.1,1429.6 L1240.2,1431.2 L1242.4,1432.7 L1244.6,1434.2 L1246.7,1435.7 L1248.9,1437.1 L1251.1,1438.4 L1253.2,1439.7 L1255.4,1440.9 L1257.6,1442.2 L1259.7,1443.3 L1261.9,1444.4 L1264.1,1445.5 L1266.3,1446.6 L1268.4,1447.6 L1270.6,1448.6 L1272.8,1449.5 L1274.9,1450.5 L1277.1,1451.3 L1279.3,1452.2 L1281.4,1453 L1283.6,1453.8 L1285.8,1454.6 L1287.9,1455.4 L1290.1,1456.1 L1292.3,1456.8 L1294.4,1457.5 L1296.6,1458.2 L1298.8,1458.8 L1300.9,1459.5 L1303.1,1460.1 L1305.3,1460.7 L1307.4,1461.2 L1309.6,1461.8 L1311.8,1462.4 L1314,1462.9 L1316.1,1463.4 L1318.3,1463.9 L1320.5,1464.4 L1322.6,1464.9 L1324.8,1465.3 L1327,1465.8 L1329.1,1466.2 L1331.3,1466.6 L1333.5,1467 L1335.6,1467.4 L1337.8,1467.8 L1340,1468.2 L1342.1,1468.6 L1344.3,1469 L1346.5,1469.3 L1348.6,1469.7 L1350.8,1470 L1353,1470.3 L1355.2,1470.7 L1357.3,1471 L1359.5,1471.3 L1361.7,1471.6 L1363.8,1471.9 L1366,1472.2 L1368.2,1472.5 L1370.3,1472.8 L1372.5,1473 L1374.7,1473.3 L1376.8,1473.6 L1379,1473.8 L1381.2,1474.1 L1383.3,1474.3 L1385.5,1474.6 L1387.7,1474.8 L1389.8,1475.1 L1392,1475.3 L1394.2,1475.5 L1396.4,1475.7 L1398.5,1476 L1400.7,1476.2 L1402.9,1476.4 L1405,1476.6 L1407.2,1476.8 L1409.4,1477 L1411.5,1477.2 L1413.7,1477.5 L1415.9,1477.7 L1418,1477.9 L1420.2,1478.1 L1422.4,1478.2 L1424.5,1478.4 L1426.7,1478.6 L1428.9,1478.8 L1431,1479 L1433.2,1479.2 L1435.4,1479.4 L1437.5,1479.6 L1439.7,1479.8 L1441.9,1479.9 L1444.1,1480.1 L1446.2,1480.3 L1448.4,1480.5 L1450.6,1480.7 L1452.7,1480.8 L1454.9,1481 L1457.1,1481.2 L1459.2,1481.4 L1461.4,1481.6 L1463.6,1481.8 L1465.7,1482 L1467.9,1482.2 L1470.1,1482.4 L1472.2,1482.6 L1474.4,1482.8 L1476.6,1483 L1478.7,1483.2 L1480.9,1483.4 L1483.1,1483.6 L1485.3,1483.8 L1487.4,1484 L1489.6,1484.3 L1491.8,1484.5 L1493.9,1484.7 L1496.1,1484.9 L1498.3,1485.1 L1500.4,1485.3 L1502.6,1485.5 L1504.8,1485.7 L1506.9,1485.8 L1509.1,1486 L1511.3,1486.2 L1513.4,1486.3 L1515.6,1486.5 L1517.8,1486.6 L1519.9,1486.8 L1522.1,1486.9 L1524.3,1487 L1526.5,1487.1 L1528.6,1487.2 L1530.8,1487.2 L1533,1487.3 L1535.1,1487.4 L1537.3,1487.4 L1539.5,1487.5 L1541.6,1487.5 L1543.8,1487.5 L1546,1487.5 L1548.1,1487.6 L1550.3,1487.6 L1552.5,1487.6 L1554.6,1487.5 L1556.8,1487.5 L1559,1487.5 L1561.1,1487.5 L1563.3,1487.4 L1565.5,1487.4 L1567.6,1487.3 L1569.8,1487.2 L1572,1487.1 L1574.2,1487 L1576.3,1486.9 L1578.5,1486.8 L1580.7,1486.7 L1582.8,1486.6 L1585,1486.4 L1587.2,1486.3 L1589.3,1486.1 L1591.5,1486 L1593.7,1485.8 L1595.8,1485.6 L1598,1485.4 L1600.2,1485.2 L1602.3,1485 L1604.5,1484.8 L1606.7,1484.5 L1608.8,1484.3 L1611,1484.1 L1613.2,1483.8 L1615.4,1483.5 L1617.5,1483.3 L1619.7,1483 L1621.9,1482.7 L1624,1482.5 L1626.2,1482.2 L1628.4,1481.9 L1630.5,1481.6 L1632.7,1481.3 L1634.9,1481 L1637,1480.7 L1639.2,1480.4 L1641.4,1480 L1643.5,1479.7 L1645.7,1479.4 L1647.9,1479.1 L1650,1478.7 L1652.2,1478.4 L1654.4,1478.1 L1656.6,1477.7 L1658.7,1477.4 L1660.9,1477.1 L1663.1,1476.7 L1665.2,1476.4 L1667.4,1476 L1669.6,1475.7 L1671.7,1475.4 L1673.9,1475 L1676.1,1474.7 L1678.2,1474.3 L1680.4,1474 L1682.6,1473.6 L1684.7,1473.3 L1686.9,1473 L1689.1,1472.6 L1691.2,1472.3 L1693.4,1472 L1695.6,1471.6 L1697.7,1471.3 L1699.9,1471 L1702.1,1470.7 L1703.7,1470.4 L1704.3,1470.3 L1704.7,1470.3 L1705.7,1470.1 L1706.4,1470 L1706.7,1470 L1707.7,1469.8 L1708.6,1469.7 L1708.7,1469.7 L1709.7,1469.6 L1710.7,1469.4 L1710.8,1469.4 L1711.7,1469.3 L1712.7,1469.1 L1712.9,1469.1 L1713.7,1469 L1714.7,1468.9 L1715.1,1468.8 L1715.7,1468.7 L1716.7,1468.6 L1717.3,1468.5 L1717.7,1468.5 L1718.7,1468.3 L1719.4,1468.2 L1719.7,1468.2 L1720.7,1468.1 L1721.6,1467.9 L1721.7,1467.9 L1722.7,1467.8 L1723.7,1467.7 L1723.8,1467.7 L1724.7,1467.6 L1725.7,1467.4 L1725.9,1467.4 L1726.7,1467.3 L1727.7,1467.2 L1728.1,1467.1 L1728.7,1467.1 L1729.7,1466.9 L1730.3,1466.9 L1730.7,1466.8 L1731.7,1466.7 L1732.4,1466.6 L1732.7,1466.6 L1733.7,1466.5 L1734.6,1466.8 L1734.7,1466.8 L1735.7,1467.2 L1736.7,1467.5 L1736.8,1467.5 L1737.7,1467.8 L1738.7,1468.1 L1738.9,1468.2 L1739.7,1468.4 L1740.7,1468.7 L1741.1,1468.8 L1741.7,1469 L1742.7,1469.3 L1743.3,1469.5 L1743.7,1469.6 L1744.7,1469.9 L1745.5,1470.1 L1745.7,1470.2 L1746.7,1470.5 L1747.6,1470.7 L1747.7,1470.8 L1748.7,1471 L1749.7,1471.3 L1749.8,1471.3 L1750.7,1471.6 L1751.7,1471.9 L1752,1471.9 L1752.7,1472.1 L1753.7,1472.4 L1754.1,1472.5 L1754.7,1472.7 L1755.7,1472.9 L1756.3,1473.1 L1756.7,1473.2 L1757.7,1473.4 L1758.5,1473.6 L1758.7,1473.7 L1759.7,1473.9 L1760.6,1474.2 L1760.7,1474.2 L1761.7,1474.4 L1762.7,1474.6 L1762.8,1474.7 L1763.7,1474.9 L1765,1475.2 L1767.1,1475.7 L1769.3,1476.2 L1771.5,1476.6 L1773.6,1477.1 L1775.8,1477.5 L1778,1478 L1780.1,1478.4 L1782.3,1478.8 L1784.5,1479.2 L1786.7,1479.6 L1788.8,1480 L1791,1480.3 L1793.2,1480.7 L1795.3,1481.1 L1797.5,1481.4 L1799.7,1481.7 L1801.8,1482 L1804,1482.3 L1806.2,1482.6 L1808.3,1482.9 L1810.5,1483.2 L1812.7,1483.5 L1814.8,1483.7 L1817,1484 L1819.2,1484.2 L1821.3,1484.5 L1823.5,1484.7 L1825.7,1484.9 L1827.8,1485.1 L1830,1485.3 L1832.2,1485.5 L1834.4,1485.7 L1836.5,1485.9 L1838.7,1486.1 L1840.9,1486.2 L1843,1486.4 L1845.2,1486.6 L1847.4,1486.7 L1849.5,1486.9 L1851.7,1487 L1853.9,1487.1 L1856,1487.3 L1858.2,1487.4 L1860.4,1487.5 L1862.5,1487.6 L1864.7,1487.7 L1866.9,1487.8 L1869,1487.9 L1871.2,1488 L1873.4,1488.1 L1875.6,1488.2 L1877.7,1488.3 L1879.9,1488.4 L1882.1,1488.4 L1884.2,1488.5 L1886.4,1488.6 L1888.6,1488.6 L1890.7,1488.7 L1892.9,1488.8 L1895.1,1488.8 L1897.2,1488.9 L1899.4,1488.9 L1901.6,1489 L1903.7,1489.1 L1905.9,1489.1 L1908.1,1489.2 L1910.2,1489.2 L1912.4,1489.3 L1914.6,1489.3 L1916.8,1489.4 L1918.9,1489.4 L1921.1,1489.5 L1923.3,1489.5 L1925.4,1489.6 L1927.6,1489.6 L1929.8,1489.6 L1931.9,1489.7 L1934.1,1489.8 L1936.3,1489.8 L1938.4,1489.9 L1940.6,1489.9 L1942.8,1490 L1944.9,1490 L1947.1,1490.1 L1949.3,1490.2 L1951.4,1490.2 L1953.6,1490.3 L1955.8,1490.4 L1957.9,1490.4 L1960.1,1490.5 L1962.3,1490.6 L1964.5,1490.7 L1966.6,1490.8 L1968.8,1490.9 L1971,1491 L1973.1,1491.1 L1975.3,1491.2 L1977.5,1491.3 L1979.6,1491.4 L1981.8,1491.5 L1984,1491.6 L1986.1,1491.8 L1988.3,1491.9 L1990.5,1492.1 L1992.6,1492.2 L1994.8,1492.4 L1997,1492.5 L1999.1,1492.7 L2001.3,1492.9 L2003.5,1493 L2005.7,1493.2 L2007.8,1493.4 L2010,1493.6 L2012.2,1493.8 L2014.3,1494 L2016.5,1494.3 L2018.7,1494.5 L2020.8,1494.7 L2023,1495"/>
</g>
<g stroke="#1971ca" stroke-width="8" stroke-dasharray="32 24 8 24" fill="none">
<path d="M730.5,314.5 V1566.5"/>
<path d="M794.5,318.5 V1570.5"/>
<path d="M1094.5,94.5 V1566.5"/>
<path d="M1722.5,326.5 V1578.5"/>
</g>
</svg>
</body></html>
